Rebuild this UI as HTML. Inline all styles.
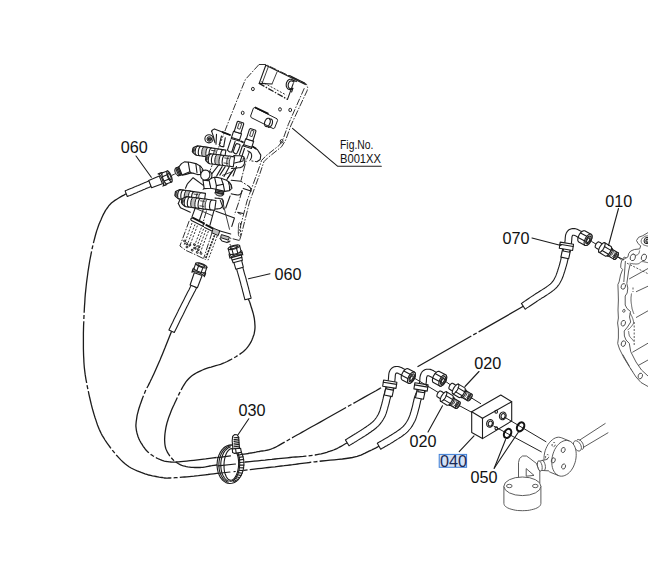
<!DOCTYPE html>
<html><head><meta charset="utf-8"><title>Parts diagram</title>
<style>
html,body{margin:0;padding:0;background:#fff;overflow:hidden;}
svg{display:block;}
.s{fill:none;stroke:#1c1c1c;stroke-width:1.1;stroke-linejoin:round;stroke-linecap:round}
.sw{fill:#fff;stroke:#1c1c1c;stroke-width:1.1;stroke-linejoin:round}
.w{fill:#fff;stroke:none}
.p2{fill:none;stroke:#222;stroke-width:1;stroke-linejoin:round}
.pd3{fill:none;stroke:#1c1c1c;stroke-width:1.3;stroke-dasharray:6 1.5 1.5 1.5}
.k15{fill:none;stroke:#111;stroke-width:1.7}
.pd2{fill:none;stroke:#222;stroke-width:.95;stroke-dasharray:8 1.5 1.5 1.5}
.sd{fill:#333;stroke:#1c1c1c;stroke-width:.6}
.sg{fill:#bdbdbd;stroke:#1c1c1c;stroke-width:1.0;stroke-linejoin:round}
.sg2{fill:#d0d0d0;stroke:#2a2a2a;stroke-width:.9;stroke-linejoin:round}
.k{fill:none;stroke:#111;stroke-width:2}
.kd{fill:none;stroke:#222;stroke-width:1.6;stroke-dasharray:2.2 1}
.o{fill:none;stroke:#111;stroke-width:2.1}
.c{fill:none;stroke:#222;stroke-width:1}
.h{fill:none;stroke:#1c1c1c;stroke-width:1.3;stroke-dasharray:62 2.2 4 2.2}
.p{fill:none;stroke:#2a2a2a;stroke-width:.9;stroke-linejoin:round}
.pw{fill:#fff;stroke:#2a2a2a;stroke-width:.9;stroke-linejoin:round}
.pd{fill:none;stroke:#262626;stroke-width:.95;stroke-dasharray:7 1.5 1.5 1.5}
.ps{fill:none;stroke:#262626;stroke-width:.95;stroke-dasharray:2 1.5}
.q{fill:none;stroke:#4a4a4a;stroke-width:.9;stroke-linejoin:round}
.qw{fill:#fff;stroke:#4a4a4a;stroke-width:.9;stroke-linejoin:round}
.qs{fill:none;stroke:#4a4a4a;stroke-width:.9;stroke-dasharray:2 1.5}
.t{font-family:"Liberation Sans",sans-serif;font-size:16.2px;fill:#111}
.f{font-family:"Liberation Sans",sans-serif;font-size:12px;fill:#111}
</style></head><body>
<svg width="648" height="568" viewBox="0 0 648 568">
<rect width="648" height="568" fill="#fff"/>
<path class="h" d="M126.2 193.7L125.2 194.3L123.9 195.1L122.3 195.9L120.6 196.9L118.7 198.0L116.8 199.2L114.9 200.4L113.1 201.7L111.4 203.1L110.0 204.5L108.7 205.9L107.6 207.5L106.5 209.0L105.4 210.7L104.5 212.4L103.5 214.1L102.6 216.0L101.7 217.9L100.9 219.9L100.0 222.0L99.1 224.1L98.3 226.3L97.5 228.6L96.7 230.9L96.0 233.3L95.3 235.8L94.6 238.5L93.9 241.2L93.2 244.0L92.5 247.0L91.8 250.1L91.2 253.5L90.5 256.9L89.8 260.5L89.2 264.2L88.6 267.9L88.0 271.7L87.5 275.5L87.0 279.2L86.5 283.0L86.1 286.8L85.7 290.6L85.3 294.4L85.0 298.3L84.8 302.2L84.5 306.1L84.3 309.9L84.1 313.8L83.9 317.7L83.8 321.5L83.6 325.3L83.5 329.2L83.4 333.2L83.4 337.1L83.4 341.0L83.4 344.9L83.4 348.6L83.5 352.3L83.6 355.7L83.8 359.0L83.9 362.0L84.1 364.8L84.3 367.4L84.6 369.9L84.9 372.3L85.2 374.7L85.6 377.1L86.0 379.6L86.5 382.2L87.0 385.0L87.6 388.0L88.3 391.2L89.0 394.6L89.8 398.0L90.6 401.5L91.4 404.9L92.3 408.3L93.2 411.5L94.1 414.6L95.0 417.5L95.9 420.1L96.7 422.6L97.5 424.9L98.4 427.2L99.2 429.3L100.2 431.4L101.2 433.5L102.3 435.6L103.6 437.7L105.0 440.0L106.6 442.4L108.4 444.9L110.3 447.5L112.3 450.1L114.4 452.7L116.5 455.2L118.7 457.6L120.8 459.9L123.0 461.9L125.0 463.8L127.0 465.3L129.0 466.7L131.1 468.0L133.1 469.0L135.2 470.0L137.2 470.9L139.2 471.6L141.2 472.4L143.1 473.1L145.0 473.8L146.9 474.4L148.7 475.0L150.6 475.4L152.4 475.9L154.2 476.2L156.0 476.5L157.7 476.8L159.2 477.1L160.7 477.3L162.0 477.5L163.1 477.7L164.0 477.8L164.6 478.0L165.2 478.0L165.7 478.1L166.2 478.1L166.9 478.1L167.7 478.1L168.7 478.0L170.0 478.0L171.6 477.9L173.4 477.8L175.4 477.7L177.5 477.6L179.8 477.4L182.1 477.2L184.5 477.0L186.9 476.8L189.3 476.6L191.7 476.4L194.0 476.2L196.2 475.9L198.4 475.7L200.7 475.4L203.0 475.1L205.4 474.8L207.9 474.5L210.6 474.1L213.5 473.8L216.7 473.4L220.2 473.0L224.1 472.6L228.2 472.1L232.5 471.6L236.9 471.1L241.4 470.6L245.8 470.1L250.1 469.6L254.2 469.1L258.0 468.7L261.6 468.3L265.1 467.9L268.5 467.5L271.8 467.1L275.0 466.8L278.2 466.4L281.2 466.0L284.2 465.7L287.1 465.3L290.0 465.0L292.7 464.7L295.2 464.3L297.6 464.0L299.9 463.7L302.2 463.4L304.4 463.1L306.8 462.8L309.3 462.5L312.0 462.1L315.0 461.8L318.3 461.4L322.0 461.0L326.0 460.6L330.1 460.2L334.3 459.8L338.4 459.4L342.4 459.0L346.1 458.5L349.5 458.0L352.5 457.5L355.0 456.9L357.2 456.4L359.2 455.7L360.9 455.1L362.5 454.4L363.9 453.7L365.2 453.1L366.5 452.4L367.7 451.8L369.0 451.2L370.3 450.6L371.6 450.0L372.8 449.4L373.9 448.9L375.0 448.3L376.0 447.8L376.9 447.3L377.7 446.9L378.4 446.5L379.0 446.2"/>
<path class="h" d="M171.6 331.2L170.9 332.9L170.0 335.2L168.9 337.9L167.7 341.0L166.4 344.2L165.1 347.6L163.7 351.0L162.4 354.2L161.1 357.3L160.0 360.0L158.9 362.5L157.8 365.0L156.7 367.5L155.6 369.9L154.6 372.2L153.6 374.4L152.6 376.5L151.7 378.5L150.8 380.3L150.0 382.0L149.3 383.4L148.7 384.6L148.2 385.6L147.7 386.5L147.3 387.2L146.9 388.0L146.5 388.8L146.0 389.7L145.5 390.7L145.0 392.0L144.4 393.5L143.7 395.2L143.0 396.9L142.3 398.8L141.6 400.8L140.9 402.7L140.2 404.6L139.6 406.5L139.0 408.3L138.5 410.0L138.1 411.6L137.7 413.1L137.3 414.7L137.0 416.1L136.8 417.6L136.6 419.0L136.4 420.3L136.2 421.6L136.1 422.8L136.0 424.0L135.9 425.1L135.9 426.1L136.0 427.1L136.1 428.0L136.2 428.9L136.3 429.7L136.4 430.5L136.6 431.3L136.8 432.2L137.0 433.0L137.2 433.8L137.4 434.6L137.7 435.4L137.9 436.2L138.2 437.0L138.5 437.8L138.8 438.6L139.2 439.4L139.6 440.2L140.0 441.0L140.5 441.9L141.0 442.8L141.6 443.7L142.2 444.7L142.8 445.7L143.4 446.6L144.1 447.5L144.7 448.4L145.4 449.2L146.0 450.0L146.6 450.7L147.3 451.3L147.9 452.0L148.5 452.5L149.2 453.1L149.8 453.6L150.5 454.1L151.1 454.6L151.8 455.0L152.5 455.5L153.2 456.0L153.9 456.4L154.7 456.9L155.4 457.3L156.2 457.7L156.9 458.1L157.7 458.5L158.5 458.8L159.2 459.2L160.0 459.5L160.8 459.8L161.5 460.1L162.2 460.4L162.9 460.6L163.7 460.9L164.4 461.1L165.2 461.3L166.1 461.4L167.0 461.6L168.0 461.7L169.0 461.8L169.9 461.9L170.8 462.0L171.7 462.1L172.7 462.1L173.8 462.1L175.1 462.1L176.7 462.0L178.6 461.9L180.8 461.7L183.5 461.4L186.6 461.1L190.1 460.7L193.8 460.3L197.7 459.8L201.7 459.3L205.7 458.9L209.6 458.4L213.3 457.9L216.7 457.5L220.0 457.1L223.3 456.7L226.6 456.3L229.8 455.9L233.0 455.5L236.0 455.1L238.9 454.7L241.6 454.4L244.0 454.1L246.2 453.8L248.1 453.5L249.7 453.2L251.0 453.0L252.1 452.9L253.1 452.7L254.0 452.5L254.8 452.3L255.8 452.2L256.8 451.9L258.0 451.7L259.3 451.5L260.7 451.2L262.1 451.0L263.5 450.8L264.9 450.6L266.4 450.3L267.8 450.0L269.4 449.6L270.9 449.1L272.5 448.5L274.1 447.8L275.7 447.1L277.3 446.3L278.9 445.4L280.6 444.4L282.3 443.4L284.1 442.4L286.0 441.3L287.9 440.2L290.0 439.0L292.0 437.9L293.9 436.8L295.7 435.8L297.5 434.8L299.5 433.7L301.8 432.4L304.3 431.0L307.3 429.3L310.8 427.3L315.0 425.0L320.2 422.1L326.5 418.5L333.6 414.5L341.2 410.2L349.1 405.8L356.8 401.5L364.0 397.4L370.5 393.7L376.0 390.7L380.0 388.4"/>
<path class="h" d="M380.0 388.4 L381.0 387.8"/>
<path class="h" d="M417.5 366.8 L523.3 306.3"/>
<path class="h" d="M248.0 299.0L248.1 299.2L248.2 299.3L248.4 299.5L248.5 299.7L248.7 299.9L248.9 300.3L249.2 300.7L249.4 301.3L249.7 302.1L250.0 303.0L250.4 304.2L250.8 305.6L251.3 307.2L251.9 309.0L252.4 310.8L253.0 312.7L253.5 314.6L253.9 316.5L254.3 318.3L254.5 320.0L254.7 321.6L254.8 323.1L254.9 324.6L255.0 326.1L255.0 327.6L254.9 329.1L254.7 330.6L254.5 332.0L254.2 333.5L253.8 335.0L253.2 336.5L252.7 338.0L252.1 339.6L251.4 341.1L250.6 342.7L249.7 344.2L248.7 345.7L247.6 347.2L246.4 348.6L245.0 350.0L243.5 351.4L241.8 352.7L239.9 354.1L237.9 355.4L235.9 356.7L233.7 358.0L231.5 359.2L229.3 360.4L227.2 361.5L225.0 362.5L222.8 363.4L220.5 364.3L218.2 365.0L215.8 365.7L213.4 366.4L211.1 367.1L208.8 367.7L206.6 368.4L204.5 369.2L202.5 370.0L200.7 370.8L199.0 371.6L197.4 372.4L195.8 373.2L194.4 374.1L193.0 375.0L191.6 376.0L190.2 377.2L188.9 378.5L187.5 380.0L186.1 381.7L184.8 383.7L183.4 385.8L182.1 388.1L180.8 390.5L179.6 392.9L178.4 395.4L177.2 397.8L176.1 400.2L175.0 402.5L174.0 404.8L172.9 407.0L171.9 409.3L171.0 411.6L170.1 413.9L169.2 416.2L168.4 418.4L167.7 420.7L167.0 422.9L166.5 425.0L166.0 427.1L165.6 429.3L165.3 431.4L165.0 433.5L164.8 435.6L164.7 437.6L164.6 439.6L164.7 441.5L164.8 443.3L165.0 445.0L165.3 446.6L165.7 448.2L166.3 449.7L166.9 451.1L167.5 452.4L168.3 453.7L169.1 454.9L169.9 456.1L170.8 457.2L171.7 458.3L172.6 459.3L173.6 460.3L174.7 461.2L175.7 462.0L176.9 462.8L178.1 463.5L179.3 464.2L180.6 464.8L181.9 465.3L183.3 465.8L184.8 466.2L186.3 466.6L187.9 466.9L189.6 467.1L191.3 467.3L193.1 467.4L194.8 467.5L196.6 467.5L198.3 467.5L200.0 467.5L201.6 467.4L202.9 467.3L204.2 467.1L205.5 466.9L206.8 466.6L208.2 466.3L209.9 466.0L211.8 465.7L214.0 465.3L216.7 465.0L219.9 464.6L223.5 464.3L227.6 463.8L231.9 463.4L236.4 463.0L241.0 462.5L245.5 462.0L249.9 461.6L254.1 461.2L258.0 460.8L261.6 460.4L265.1 460.1L268.5 459.7L271.8 459.4L275.0 459.0L278.2 458.7L281.2 458.4L284.2 458.1L287.1 457.8L290.0 457.5L292.8 457.2L295.6 457.0L298.2 456.8L300.8 456.6L303.3 456.4L305.8 456.1L308.2 455.9L310.5 455.6L312.8 455.3L315.0 455.0L317.1 454.6L319.2 454.2L321.2 453.8L323.1 453.3L325.0 452.8L326.8 452.3L328.5 451.7L330.2 451.2L331.9 450.6L333.5 450.0L335.1 449.3L336.8 448.6L338.4 447.8L340.0 446.9L341.5 446.1L342.9 445.3L344.2 444.5L345.4 443.8L346.4 443.2L347.2 442.8"/>
<path class="sw" d="M127.3 196.5L128.0 196.2L128.9 195.8L130.0 195.4L131.2 194.9L132.5 194.4L133.8 193.8L135.2 193.2L136.6 192.7L137.9 192.1L139.2 191.6L140.4 191.0L141.8 190.4L143.2 189.8L144.7 189.2L146.1 188.6L147.5 188.0L148.8 187.5L149.9 187.0L150.8 186.6L151.6 186.3L149.2 180.7L148.5 181.1L147.5 181.5L146.4 182.0L145.1 182.5L143.8 183.1L142.3 183.7L140.9 184.3L139.5 184.9L138.1 185.5L136.8 186.0L135.6 186.6L134.3 187.1L132.9 187.7L131.5 188.3L130.2 188.8L128.9 189.3L127.7 189.8L126.6 190.3L125.8 190.6L125.1 190.9Z"/>
<path class="sw" d="M174.3 332.5L175.0 331.1L175.9 329.3L176.9 327.2L178.1 324.8L179.3 322.3L180.6 319.6L181.9 316.9L183.3 314.2L184.5 311.7L185.7 309.3L186.8 307.0L188.1 304.6L189.3 302.1L190.6 299.6L191.9 297.1L193.1 294.8L194.2 292.6L195.2 290.7L196.0 289.0L196.7 287.8L191.3 285.0L190.7 286.3L189.8 287.9L188.9 289.9L187.7 292.0L186.5 294.4L185.3 296.8L184.0 299.4L182.7 301.9L181.5 304.3L180.3 306.7L179.1 309.0L177.9 311.6L176.6 314.2L175.2 317.0L173.9 319.6L172.7 322.2L171.5 324.6L170.5 326.7L169.6 328.5L168.9 329.9Z"/>
<path class="sw" d="M251.1 298.2L250.9 297.3L250.6 296.1L250.2 294.7L249.8 293.1L249.4 291.4L248.9 289.7L248.5 287.9L248.0 286.1L247.5 284.3L247.1 282.7L246.6 281.0L246.2 279.3L245.7 277.4L245.1 275.6L244.6 273.8L244.1 272.1L243.7 270.5L243.3 269.1L242.9 267.9L242.7 266.9L236.5 268.7L236.8 269.6L237.1 270.8L237.5 272.2L238.0 273.8L238.5 275.6L239.0 277.3L239.5 279.2L240.0 281.0L240.5 282.7L240.9 284.3L241.3 285.9L241.8 287.7L242.3 289.5L242.7 291.3L243.2 293.0L243.6 294.7L244.0 296.3L244.4 297.7L244.7 298.9L244.9 299.8Z"/>
<path class="sw" d="M349.0 445.7L349.6 445.4L350.4 444.9L351.4 444.3L352.5 443.6L353.7 442.9L354.9 442.1L356.2 441.4L357.4 440.6L358.5 439.9L359.6 439.2L360.6 438.6L361.6 438.0L362.7 437.3L363.7 436.7L364.7 436.1L365.7 435.5L366.7 434.8L367.6 434.2L368.6 433.5L369.6 432.8L370.5 432.2L371.4 431.5L372.4 430.8L373.3 430.2L374.2 429.5L375.2 428.8L376.1 428.0L377.0 427.2L377.9 426.4L378.7 425.6L379.5 424.7L380.2 423.8L380.9 422.9L381.6 422.0L382.2 421.1L382.8 420.2L383.4 419.3L383.9 418.3L384.4 417.4L384.9 416.4L385.4 415.4L385.8 414.4L386.2 413.4L386.5 412.3L386.8 411.3L387.1 410.3L387.4 409.4L387.7 408.4L387.9 407.4L388.2 406.4L388.5 405.4L388.8 404.3L389.1 403.1L389.4 402.0L389.6 400.9L389.9 399.7L390.2 398.7L390.4 397.7L390.6 396.7L390.8 395.9L391.1 395.1L391.3 394.3L391.5 393.5L391.7 392.8L391.9 392.1L392.1 391.5L392.2 390.9L392.4 390.4L392.5 389.9L392.6 389.5L386.0 387.7L385.9 388.0L385.8 388.4L385.6 389.0L385.4 389.5L385.2 390.2L385.0 390.9L384.8 391.6L384.6 392.4L384.4 393.3L384.2 394.1L383.9 395.1L383.7 396.0L383.4 397.1L383.2 398.2L382.9 399.3L382.7 400.4L382.4 401.5L382.1 402.5L381.9 403.6L381.6 404.6L381.3 405.6L381.0 406.6L380.8 407.5L380.5 408.4L380.2 409.3L380.0 410.2L379.7 411.0L379.4 411.8L379.1 412.6L378.7 413.4L378.3 414.2L377.9 415.0L377.4 415.8L377.0 416.5L376.5 417.3L376.0 418.0L375.4 418.8L374.9 419.5L374.3 420.2L373.7 420.8L373.1 421.5L372.4 422.1L371.7 422.7L370.9 423.3L370.1 424.0L369.2 424.6L368.4 425.2L367.5 425.9L366.5 426.5L365.6 427.2L364.7 427.8L363.8 428.4L362.9 429.0L361.9 429.6L361.0 430.3L360.0 430.9L359.0 431.5L358.0 432.1L357.0 432.7L356.0 433.4L354.9 434.0L353.7 434.8L352.5 435.5L351.3 436.3L350.1 437.0L348.9 437.7L347.8 438.4L346.9 439.0L346.0 439.5L345.4 439.9Z"/>
<path class="sw" d="M386.3 385.7L384.3 395.0L392.1 396.6L394.1 387.3Z"/>
<path class="sw" d="M393.0 390.1L393.2 389.4L393.4 388.4L393.6 387.1L393.9 385.8L394.2 384.4L394.4 383.0L394.7 381.7L394.9 380.5L395.0 379.4L395.1 378.4L395.2 377.4L395.2 376.6L395.3 375.8L395.3 375.2L395.4 374.8L395.5 374.4L395.6 374.1L395.7 373.8L395.8 373.6L395.9 373.4L396.0 373.3L396.1 373.2L396.1 373.2L396.2 373.1L396.2 373.1L396.3 373.1L396.4 373.1L396.5 373.1L396.7 373.1L397.0 373.1L397.3 373.1L397.5 373.1L397.7 373.2L398.0 373.3L398.4 373.5L398.9 373.7L399.4 374.0L400.0 374.3L400.5 374.6L400.9 374.8L401.3 375.0L401.7 375.2L402.0 375.4L402.3 375.6L402.5 375.7L402.8 375.9L403.1 376.1L403.3 376.2L406.7 370.6L406.6 370.5L406.4 370.4L406.1 370.2L405.8 370.0L405.4 369.7L405.0 369.5L404.5 369.2L404.1 369.0L403.6 368.8L403.1 368.5L402.6 368.2L401.9 367.8L401.2 367.5L400.5 367.2L399.7 366.9L398.9 366.7L398.1 366.5L397.4 366.5L396.7 366.5L395.9 366.5L395.1 366.6L394.4 366.8L393.6 367.1L392.8 367.5L392.1 367.9L391.5 368.4L391.0 369.0L390.5 369.6L390.1 370.3L389.7 371.0L389.4 371.8L389.1 372.6L388.9 373.5L388.8 374.4L388.7 375.3L388.6 376.2L388.6 377.0L388.5 377.8L388.5 378.6L388.3 379.5L388.2 380.5L387.9 381.8L387.7 383.1L387.4 384.5L387.2 385.9L386.9 387.1L386.7 388.1L386.6 388.9Z"/>
<path class="sw" d="M383.6 380.0L396.9 382.2L396.0 388.4L382.7 386.2Z"/>
<path class="s" d="M383.3 382.2L396.6 384.4"/>
<path class="sw" d="M402.2 379.9L401.6 379.3L401.2 378.4L401.2 377.2L401.3 375.9L401.8 374.4L402.5 372.9L403.3 371.5L404.3 370.3L405.3 369.4L406.4 368.8L407.3 368.6L408.1 368.7L414.4 372.1L415.0 372.7L415.4 373.6L415.4 374.8L415.3 376.1L414.8 377.6L414.1 379.1L413.3 380.5L412.3 381.7L411.3 382.6L410.2 383.2L409.3 383.4L408.5 383.3Z"/>
<path class="sw" d="M414.1 379.1L413.3 380.5L412.3 381.7L411.3 382.6L410.2 383.2L409.3 383.4L408.5 383.3L407.9 382.7L407.6 381.8L407.5 380.6L407.7 379.3L408.2 377.8L408.8 376.3L409.7 374.9L410.7 373.7L411.7 372.8L412.7 372.2L413.6 372.0L414.4 372.1L415.0 372.7L415.4 373.6L415.4 374.8L415.3 376.1L414.8 377.6L414.1 379.1Z"/>
<path class="s" d="M413.5 378.8L412.8 379.9L412.0 380.8L411.2 381.5L410.4 381.7L409.7 381.6L409.3 381.1L409.1 380.3L409.1 379.3L409.4 378.1L409.9 376.9L410.7 375.8L411.5 374.8L412.3 374.2L413.1 373.9L413.8 374.0L414.2 374.5L414.4 375.3L414.4 376.4L414.1 377.6L413.5 378.8Z"/>
<path class="s" d="M412.7 378.7L412.1 379.5L411.5 380.1L410.9 380.5L410.4 380.4L410.0 380.0L410.0 379.3L410.1 378.5L410.5 377.5L411.1 376.7L411.7 376.0L412.3 375.7L412.8 375.8L413.2 376.2L413.2 376.8L413.1 377.7L412.7 378.7Z"/>
<path class="s" d="M403.9 370.9L410.1 374.2"/>
<path class="s" d="M401.5 375.3L407.7 378.6"/>
<path class="sw" d="M380.7 449.2L381.5 448.7L382.6 448.1L383.8 447.4L385.2 446.6L386.8 445.7L388.3 444.8L390.0 443.9L391.5 442.9L393.1 442.0L394.4 441.1L395.8 440.3L397.1 439.4L398.4 438.6L399.7 437.7L401.1 436.9L402.4 436.0L403.6 435.0L404.9 434.1L406.1 433.1L407.2 432.1L408.2 431.1L409.1 430.0L410.0 429.0L410.8 428.0L411.6 426.9L412.3 425.9L412.9 424.8L413.5 423.7L414.1 422.6L414.7 421.5L415.3 420.3L415.8 419.1L416.2 417.9L416.6 416.7L417.0 415.4L417.4 414.2L417.7 413.1L418.0 411.9L418.3 410.8L418.6 409.7L418.9 408.6L419.2 407.5L419.5 406.3L419.7 405.2L420.0 404.1L420.2 403.1L420.4 402.1L420.6 401.2L420.9 400.3L421.1 399.5L421.4 398.7L421.6 397.9L421.9 397.1L422.2 396.3L422.5 395.6L422.8 394.9L423.1 394.2L423.4 393.6L423.6 393.0L423.8 392.6L417.4 390.0L417.2 390.4L417.0 390.9L416.8 391.5L416.5 392.2L416.2 392.9L415.8 393.8L415.5 394.7L415.1 395.6L414.8 396.5L414.5 397.5L414.2 398.5L414.0 399.5L413.7 400.6L413.5 401.6L413.2 402.7L413.0 403.7L412.8 404.8L412.5 405.8L412.3 406.8L412.0 407.9L411.7 409.0L411.4 410.1L411.1 411.2L410.7 412.3L410.4 413.4L410.1 414.5L409.7 415.6L409.3 416.6L408.9 417.5L408.5 418.5L408.0 419.4L407.5 420.4L407.0 421.3L406.4 422.2L405.9 423.0L405.3 423.9L404.7 424.7L404.0 425.5L403.2 426.3L402.4 427.1L401.5 427.9L400.6 428.7L399.5 429.5L398.4 430.3L397.2 431.1L396.0 432.0L394.7 432.8L393.4 433.6L392.0 434.5L390.8 435.3L389.4 436.1L388.0 437.0L386.4 437.9L384.9 438.8L383.3 439.7L381.8 440.6L380.4 441.4L379.2 442.1L378.1 442.7L377.3 443.2Z"/>
<path class="sw" d="M417.5 388.4L415.5 397.7L423.4 399.3L425.4 390.0Z"/>
<path class="sw" d="M424.3 392.8L424.4 392.1L424.6 391.1L424.9 389.8L425.1 388.5L425.4 387.1L425.7 385.7L425.9 384.4L426.1 383.2L426.3 382.1L426.4 381.1L426.4 380.1L426.5 379.3L426.5 378.5L426.6 377.9L426.6 377.5L426.7 377.1L426.8 376.8L427.0 376.5L427.1 376.3L427.2 376.1L427.2 376.0L427.3 375.9L427.4 375.9L427.4 375.8L427.5 375.8L427.5 375.8L427.6 375.8L427.8 375.8L428.0 375.8L428.2 375.8L428.5 375.8L428.7 375.8L429.0 375.9L429.3 376.0L429.7 376.2L430.2 376.4L430.7 376.7L431.2 377.0L431.7 377.3L432.2 377.5L432.6 377.7L432.9 377.9L433.2 378.1L433.5 378.3L433.8 378.4L434.1 378.6L434.3 378.8L434.5 378.9L438.0 373.3L437.8 373.2L437.6 373.1L437.4 372.9L437.0 372.7L436.6 372.4L436.2 372.2L435.8 371.9L435.3 371.7L434.9 371.5L434.4 371.2L433.8 370.9L433.2 370.5L432.5 370.2L431.8 369.9L431.0 369.6L430.2 369.4L429.4 369.2L428.7 369.2L427.9 369.2L427.2 369.2L426.4 369.3L425.6 369.5L424.8 369.8L424.1 370.2L423.4 370.6L422.8 371.1L422.2 371.7L421.8 372.3L421.3 373.0L421.0 373.7L420.7 374.5L420.4 375.3L420.2 376.2L420.0 377.1L419.9 378.0L419.9 378.9L419.8 379.7L419.8 380.5L419.7 381.3L419.6 382.2L419.4 383.2L419.2 384.5L418.9 385.8L418.7 387.2L418.4 388.6L418.2 389.8L418.0 390.8L417.8 391.6Z"/>
<path class="sw" d="M414.9 382.7L428.1 384.9L427.2 391.1L413.9 388.9Z"/>
<path class="s" d="M414.6 384.9L427.9 387.1"/>
<path class="sw" d="M433.4 382.6L432.8 382.0L432.5 381.1L432.4 379.9L432.6 378.6L433.0 377.1L433.7 375.6L434.6 374.2L435.6 373.0L436.6 372.1L437.6 371.5L438.5 371.3L439.3 371.4L445.7 374.8L446.3 375.4L446.6 376.3L446.7 377.5L446.5 378.8L446.1 380.3L445.4 381.8L444.5 383.2L443.5 384.4L442.5 385.3L441.5 385.9L440.6 386.1L439.8 386.0Z"/>
<path class="sw" d="M445.4 381.8L444.5 383.2L443.5 384.4L442.5 385.3L441.5 385.9L440.6 386.1L439.8 386.0L439.2 385.4L438.8 384.5L438.8 383.3L439.0 382.0L439.4 380.5L440.1 379.0L440.9 377.6L441.9 376.4L442.9 375.5L444.0 374.9L444.9 374.7L445.7 374.8L446.3 375.4L446.6 376.3L446.7 377.5L446.5 378.8L446.1 380.3L445.4 381.8Z"/>
<path class="s" d="M444.8 381.5L444.1 382.6L443.3 383.5L442.4 384.2L441.6 384.4L441.0 384.3L440.5 383.8L440.3 383.0L440.4 382.0L440.7 380.8L441.2 379.6L441.9 378.5L442.7 377.5L443.6 376.9L444.3 376.6L445.0 376.7L445.5 377.2L445.7 378.0L445.6 379.1L445.3 380.3L444.8 381.5Z"/>
<path class="s" d="M443.9 381.4L443.4 382.2L442.7 382.8L442.1 383.2L441.6 383.1L441.3 382.7L441.2 382.0L441.4 381.2L441.8 380.2L442.3 379.4L443.0 378.7L443.6 378.4L444.1 378.5L444.4 378.9L444.5 379.5L444.3 380.4L443.9 381.4Z"/>
<path class="s" d="M435.1 373.6L441.3 376.9"/>
<path class="s" d="M432.8 378.0L439.0 381.3"/>
<path class="sw" d="M525.2 309.2L526.0 308.6L527.0 307.9L528.3 307.1L529.6 306.2L531.1 305.2L532.6 304.2L534.1 303.2L535.6 302.2L537.0 301.2L538.3 300.4L539.5 299.6L540.7 298.9L541.8 298.1L543.0 297.4L544.2 296.7L545.3 296.0L546.4 295.3L547.5 294.6L548.5 293.9L549.5 293.2L550.3 292.6L551.2 292.0L551.9 291.5L552.7 290.9L553.4 290.4L554.1 289.8L554.8 289.2L555.5 288.6L556.1 288.0L556.7 287.3L557.4 286.6L557.9 285.9L558.5 285.2L559.0 284.5L559.5 283.7L559.9 283.0L560.3 282.2L560.7 281.5L561.1 280.8L561.5 280.0L561.9 279.2L562.2 278.4L562.6 277.6L562.9 276.8L563.2 276.0L563.4 275.2L563.7 274.4L564.0 273.6L564.2 272.8L564.5 272.0L564.8 271.1L565.0 270.3L565.3 269.4L565.6 268.5L565.8 267.6L566.1 266.7L566.4 265.8L566.6 264.8L566.9 263.8L567.2 262.8L567.4 261.7L567.7 260.6L567.9 259.4L568.2 258.1L568.4 256.9L568.7 255.7L568.9 254.6L569.1 253.6L569.3 252.8L569.4 252.2L562.6 250.8L562.5 251.5L562.3 252.3L562.1 253.3L561.9 254.3L561.7 255.5L561.4 256.7L561.2 257.9L560.9 259.1L560.7 260.2L560.4 261.2L560.2 262.1L560.0 263.0L559.7 263.9L559.5 264.8L559.2 265.7L559.0 266.5L558.7 267.4L558.5 268.2L558.2 269.0L557.9 269.8L557.7 270.7L557.4 271.5L557.1 272.2L556.9 273.0L556.6 273.7L556.4 274.4L556.1 275.1L555.9 275.7L555.6 276.4L555.3 277.0L555.0 277.6L554.6 278.3L554.3 278.9L554.0 279.5L553.6 280.1L553.3 280.6L552.9 281.1L552.5 281.7L552.1 282.2L551.7 282.7L551.2 283.2L550.7 283.6L550.2 284.1L549.7 284.5L549.2 284.9L548.5 285.4L547.9 285.9L547.2 286.4L546.4 287.0L545.5 287.6L544.6 288.2L543.7 288.8L542.7 289.4L541.6 290.1L540.5 290.8L539.4 291.5L538.2 292.3L537.0 293.0L535.7 293.8L534.5 294.6L533.2 295.5L531.8 296.4L530.3 297.4L528.7 298.5L527.2 299.5L525.8 300.5L524.4 301.4L523.2 302.2L522.2 302.9L521.4 303.4Z"/>
<path class="sw" d="M562.9 247.8L560.9 257.1L568.7 258.7L570.7 249.4Z"/>
<path class="sw" d="M569.6 252.2L569.8 251.5L570.0 250.5L570.2 249.2L570.5 247.9L570.8 246.5L571.0 245.1L571.3 243.8L571.5 242.6L571.6 241.5L571.7 240.5L571.8 239.5L571.8 238.7L571.9 237.9L571.9 237.3L572.0 236.9L572.1 236.5L572.2 236.2L572.3 235.9L572.4 235.7L572.5 235.5L572.6 235.4L572.7 235.3L572.7 235.3L572.8 235.2L572.8 235.2L572.9 235.2L573.0 235.2L573.1 235.2L573.3 235.2L573.6 235.2L573.9 235.2L574.1 235.2L574.3 235.3L574.6 235.4L575.0 235.6L575.5 235.8L576.0 236.1L576.6 236.4L577.1 236.7L577.5 236.9L577.9 237.1L578.3 237.3L578.6 237.5L578.9 237.7L579.1 237.8L579.4 238.0L579.7 238.2L579.9 238.3L583.3 232.7L583.2 232.6L583.0 232.5L582.7 232.3L582.4 232.1L582.0 231.8L581.6 231.6L581.1 231.3L580.7 231.1L580.2 230.9L579.7 230.6L579.2 230.3L578.5 229.9L577.8 229.6L577.1 229.3L576.3 229.0L575.5 228.8L574.7 228.6L574.0 228.6L573.3 228.6L572.5 228.6L571.7 228.7L571.0 228.9L570.2 229.2L569.4 229.6L568.7 230.0L568.1 230.5L567.6 231.1L567.1 231.7L566.7 232.4L566.3 233.1L566.0 233.9L565.7 234.7L565.5 235.6L565.4 236.5L565.3 237.4L565.2 238.3L565.2 239.1L565.1 239.9L565.1 240.7L564.9 241.6L564.8 242.6L564.5 243.9L564.3 245.2L564.0 246.6L563.8 248.0L563.5 249.2L563.3 250.2L563.2 251.0Z"/>
<path class="sw" d="M560.2 242.1L573.5 244.3L572.6 250.5L559.3 248.3Z"/>
<path class="s" d="M559.9 244.3L573.2 246.5"/>
<path class="sw" d="M578.8 242.0L578.2 241.4L577.8 240.5L577.8 239.3L577.9 238.0L578.4 236.5L579.1 235.0L579.9 233.6L580.9 232.4L581.9 231.5L583.0 230.9L583.9 230.7L584.7 230.8L591.0 234.2L591.6 234.8L592.0 235.7L592.0 236.9L591.9 238.2L591.4 239.7L590.7 241.2L589.9 242.6L588.9 243.8L587.9 244.7L586.8 245.3L585.9 245.5L585.1 245.4Z"/>
<path class="sw" d="M590.7 241.2L589.9 242.6L588.9 243.8L587.9 244.7L586.8 245.3L585.9 245.5L585.1 245.4L584.5 244.8L584.2 243.9L584.1 242.7L584.3 241.4L584.8 239.9L585.4 238.4L586.3 237.0L587.3 235.8L588.3 234.9L589.3 234.3L590.2 234.1L591.0 234.2L591.6 234.8L592.0 235.7L592.0 236.9L591.9 238.2L591.4 239.7L590.7 241.2Z"/>
<path class="s" d="M590.1 240.9L589.4 242.0L588.6 242.9L587.8 243.6L587.0 243.8L586.3 243.7L585.9 243.2L585.7 242.4L585.7 241.4L586.0 240.2L586.5 239.0L587.3 237.9L588.1 236.9L588.9 236.3L589.7 236.0L590.4 236.1L590.8 236.6L591.0 237.4L591.0 238.5L590.7 239.7L590.1 240.9Z"/>
<path class="s" d="M589.3 240.8L588.7 241.6L588.1 242.2L587.5 242.6L587.0 242.5L586.6 242.1L586.6 241.4L586.7 240.6L587.1 239.6L587.7 238.8L588.3 238.1L588.9 237.8L589.4 237.9L589.8 238.3L589.8 238.9L589.7 239.8L589.3 240.8Z"/>
<path class="s" d="M580.5 233.0L586.7 236.3"/>
<path class="s" d="M578.1 237.4L584.3 240.7"/>
<path class="c" d="M415.0 378.5 L438.0 392.3"/>
<path class="c" d="M445.5 381.3 L450.0 384.6"/>
<path class="c" d="M470.5 397.3 L481.0 403.8"/>
<path class="c" d="M458.5 405.2 L473.0 413.0"/>
<path class="s" d="M450.9 390.0L450.6 389.5L450.6 388.7L450.9 387.6L451.4 386.4L452.2 385.4L453.0 384.7L453.7 384.3L454.3 384.3"/>
<path class="sw" d="M449.2 389.0L448.9 388.5L448.9 387.6L449.2 386.6L449.7 385.4L450.5 384.4L451.3 383.6L452.0 383.3L452.6 383.3L457.4 386.2L454.0 391.9Z"/>
<path class="sw" d="M465.4 390.3L471.7 394.1L472.1 394.6L472.1 395.6L471.7 396.9L471.1 398.2L470.2 399.5L469.2 400.4L468.4 400.8L467.7 400.8L461.4 397.0Z"/>
<path class="sw" d="M471.1 398.2L470.2 399.5L469.2 400.4L468.4 400.8L467.7 400.8L467.3 400.2L467.3 399.2L467.7 397.9L468.3 396.6L469.2 395.4L470.1 394.5L471.0 394.0L471.7 394.1L472.1 394.6L472.1 395.6L471.7 396.9L471.1 398.2Z"/>
<path class="sg" d="M470.6 398.0L469.9 398.9L469.2 399.5L468.7 399.5L468.4 399.0L468.6 398.1L469.1 397.1L469.8 396.1L470.5 395.6L471.0 395.6L471.3 396.0L471.1 396.9L470.6 398.0Z"/>
<path class="p" d="M466.8 391.1L467.2 391.7L467.2 392.7L466.8 394.0L466.2 395.3L465.3 396.5L464.3 397.4L463.5 397.9L462.8 397.8"/>
<path class="p" d="M468.4 392.1L468.8 392.7L468.8 393.7L468.5 394.9L467.8 396.3L466.9 397.5L466.0 398.4L465.1 398.9L464.4 398.8"/>
<path class="p" d="M470.1 393.1L470.4 393.7L470.4 394.7L470.1 395.9L469.4 397.3L468.6 398.5L467.6 399.4L466.7 399.8L466.0 399.8"/>
<path class="sw" d="M452.7 393.7L452.3 393.2L452.2 392.2L452.5 390.9L453.0 389.4L453.8 387.9L454.8 386.5L455.9 385.3L456.9 384.4L457.8 384.0L458.4 384.1L464.8 387.9L465.2 388.5L465.2 389.5L465.0 390.7L464.4 392.2L463.6 393.8L462.6 395.2L461.6 396.4L460.6 397.2L459.7 397.6L459.0 397.5Z"/>
<path class="s" d="M458.4 384.1L458.8 384.7L458.9 385.6L458.6 386.9L458.1 388.4L457.3 390.0L456.3 391.4L455.2 392.6L454.2 393.4L453.3 393.8L452.7 393.7"/>
<path class="s" d="M458.1 387.9L464.6 391.8"/>
<path class="s" d="M455.8 391.9L462.2 395.7"/>
<path class="s" d="M465.8 389.7L466.1 390.2L466.2 391.0L466.0 392.1L465.5 393.3L464.9 394.5L464.1 395.7L463.2 396.7L462.4 397.4L461.6 397.7L461.1 397.6"/>
<path class="s" d="M438.9 397.7L438.6 397.2L438.6 396.4L438.9 395.3L439.4 394.1L440.2 393.1L441.0 392.4L441.7 392.0L442.3 392.0"/>
<path class="sw" d="M437.2 396.7L436.9 396.2L436.9 395.3L437.2 394.3L437.7 393.1L438.5 392.1L439.3 391.3L440.0 391.0L440.6 391.0L445.4 393.9L442.0 399.6Z"/>
<path class="sw" d="M453.4 398.0L459.7 401.8L460.1 402.3L460.1 403.3L459.7 404.6L459.1 405.9L458.2 407.2L457.2 408.1L456.4 408.5L455.7 408.5L449.4 404.7Z"/>
<path class="sw" d="M459.1 405.9L458.2 407.2L457.2 408.1L456.4 408.5L455.7 408.5L455.3 407.9L455.3 406.9L455.7 405.6L456.3 404.3L457.2 403.1L458.1 402.2L459.0 401.7L459.7 401.8L460.1 402.3L460.1 403.3L459.7 404.6L459.1 405.9Z"/>
<path class="sg" d="M458.6 405.7L457.9 406.6L457.2 407.2L456.7 407.2L456.4 406.7L456.6 405.8L457.1 404.8L457.8 403.8L458.5 403.3L459.0 403.3L459.3 403.7L459.1 404.6L458.6 405.7Z"/>
<path class="p" d="M454.8 398.8L455.2 399.4L455.2 400.4L454.8 401.7L454.2 403.0L453.3 404.2L452.3 405.1L451.5 405.6L450.8 405.5"/>
<path class="p" d="M456.4 399.8L456.8 400.4L456.8 401.4L456.5 402.6L455.8 404.0L454.9 405.2L454.0 406.1L453.1 406.6L452.4 406.5"/>
<path class="p" d="M458.1 400.8L458.4 401.4L458.4 402.4L458.1 403.6L457.4 405.0L456.6 406.2L455.6 407.1L454.7 407.5L454.0 407.5"/>
<path class="sw" d="M440.7 401.4L440.3 400.9L440.2 399.9L440.5 398.6L441.0 397.1L441.8 395.6L442.8 394.2L443.9 393.0L444.9 392.1L445.8 391.7L446.4 391.8L452.8 395.6L453.2 396.2L453.2 397.2L453.0 398.4L452.4 399.9L451.6 401.5L450.6 402.9L449.6 404.1L448.6 404.9L447.7 405.3L447.0 405.2Z"/>
<path class="s" d="M446.4 391.8L446.8 392.4L446.9 393.3L446.6 394.6L446.1 396.1L445.3 397.7L444.3 399.1L443.2 400.3L442.2 401.1L441.3 401.5L440.7 401.4"/>
<path class="s" d="M446.1 395.6L452.6 399.5"/>
<path class="s" d="M443.8 399.6L450.2 403.4"/>
<path class="s" d="M453.8 397.4L454.1 397.9L454.2 398.7L454.0 399.8L453.5 401.0L452.9 402.2L452.1 403.4L451.2 404.4L450.4 405.1L449.6 405.4L449.1 405.3"/>
<path class="c" d="M591.3 241.3 L596.5 244.4"/>
<path class="c" d="M616.5 256.0 L624.0 260.0"/>
<path class="s" d="M597.2 248.6L596.9 248.1L596.9 247.3L597.2 246.2L597.7 245.0L598.5 244.0L599.3 243.3L600.0 242.9L600.6 242.9"/>
<path class="sw" d="M595.5 247.6L595.2 247.1L595.2 246.2L595.5 245.2L596.0 244.0L596.8 243.0L597.6 242.2L598.3 241.9L598.9 241.9L603.7 244.8L600.3 250.5Z"/>
<path class="sw" d="M611.7 248.9L618.0 252.7L618.4 253.2L618.4 254.2L618.0 255.5L617.4 256.8L616.5 258.1L615.5 259.0L614.7 259.4L614.0 259.4L607.7 255.6Z"/>
<path class="sw" d="M617.4 256.8L616.5 258.1L615.5 259.0L614.7 259.4L614.0 259.4L613.6 258.8L613.6 257.8L614.0 256.5L614.6 255.2L615.5 254.0L616.4 253.1L617.3 252.6L618.0 252.7L618.4 253.2L618.4 254.2L618.0 255.5L617.4 256.8Z"/>
<path class="sg" d="M616.9 256.6L616.2 257.5L615.5 258.1L615.0 258.1L614.7 257.6L614.9 256.7L615.4 255.7L616.1 254.7L616.8 254.2L617.3 254.2L617.6 254.6L617.4 255.5L616.9 256.6Z"/>
<path class="p" d="M613.1 249.7L613.5 250.3L613.5 251.3L613.1 252.6L612.5 253.9L611.6 255.1L610.6 256.0L609.8 256.5L609.1 256.4"/>
<path class="p" d="M614.7 250.7L615.1 251.3L615.1 252.3L614.8 253.5L614.1 254.9L613.2 256.1L612.3 257.0L611.4 257.5L610.7 257.4"/>
<path class="p" d="M616.4 251.7L616.7 252.3L616.7 253.3L616.4 254.5L615.7 255.9L614.9 257.1L613.9 258.0L613.0 258.4L612.3 258.4"/>
<path class="sw" d="M599.0 252.3L598.6 251.8L598.5 250.8L598.8 249.5L599.3 248.0L600.1 246.5L601.1 245.1L602.2 243.9L603.2 243.0L604.1 242.6L604.7 242.7L611.1 246.5L611.5 247.1L611.5 248.1L611.3 249.3L610.7 250.8L609.9 252.4L608.9 253.8L607.9 255.0L606.9 255.8L606.0 256.2L605.3 256.1Z"/>
<path class="s" d="M604.7 242.7L605.1 243.3L605.2 244.2L604.9 245.5L604.4 247.0L603.6 248.6L602.6 250.0L601.5 251.2L600.5 252.0L599.6 252.4L599.0 252.3"/>
<path class="s" d="M604.4 246.5L610.9 250.4"/>
<path class="s" d="M602.1 250.5L608.5 254.3"/>
<path class="s" d="M612.1 248.3L612.4 248.8L612.5 249.6L612.3 250.7L611.8 251.9L611.2 253.1L610.4 254.3L609.5 255.3L608.7 256.0L607.9 256.3L607.4 256.2"/>
<path class="sw" d="M471.7 411.7L500.8 395.0L511.7 401.7L511.7 421.0L482.5 438.6L471.7 432.5Z"/>
<path class="s" d="M471.7 411.7L482.5 418.3L511.7 401.7"/>
<path class="s" d="M482.5 418.3L482.5 438.6"/>
<ellipse class="s" cx="490.0" cy="423.4" rx="3.3" ry="3.9" transform="rotate(20 490.0 423.4)"/>
<ellipse class="s" cx="490.3" cy="423.6" rx="2.0" ry="2.6" transform="rotate(20 490.3 423.6)"/>
<ellipse class="s" cx="502.8" cy="415.9" rx="3.3" ry="3.9" transform="rotate(20 502.8 415.9)"/>
<ellipse class="s" cx="503.1" cy="416.1" rx="2.0" ry="2.6" transform="rotate(20 503.1 416.1)"/>
<ellipse class="s" cx="496.2" cy="411.7" rx="1.3" ry="1.5" transform="rotate(0 496.2 411.7)"/>
<ellipse class="s" cx="496.3" cy="428.2" rx="1.3" ry="1.5" transform="rotate(0 496.3 428.2)"/>
<path class="c" d="M506.0 418.0 L546.3 441.9"/>
<path class="c" d="M493.5 426.0 L541.7 452.0"/>
<ellipse class="o" cx="507.6" cy="433.4" rx="3.3" ry="4.8" transform="rotate(28 507.6 433.4)"/>
<ellipse class="o" cx="520.6" cy="426.8" rx="3.3" ry="4.8" transform="rotate(28 520.6 426.8)"/>
<path class="s" d="M136.0 156.0 L151.3 177.3"/>
<path class="s" d="M270.0 273.8 L248.5 278.8"/>
<path class="s" d="M248.8 418.8 L237.5 435.5"/>
<path class="s" d="M479.0 371.5 L465.0 386.5"/>
<path class="s" d="M442.5 405.8 L428.0 432.0"/>
<path class="s" d="M474.0 435.8 L459.2 451.6"/>
<path class="s" d="M494.2 468.2 L505.6 439.5"/>
<path class="s" d="M494.2 468.2 L518.3 432.2"/>
<path class="s" d="M532.0 238.0 L561.0 245.5"/>
<path class="s" d="M618.5 208.5 L608.5 245.5"/>
<path class="s" d="M292.5 128.3L337.5 166.2L381.3 166.2"/>
<rect x="439.2" y="454.4" width="27.4" height="12.9" fill="#d3e1f6" stroke="#3f7fd6" stroke-width="1"/>
<text class="t" x="120.8" y="153.4">060</text>
<text class="t" x="274.6" y="280.0">060</text>
<text class="t" x="238.4" y="416.2">030</text>
<text class="t" x="474.2" y="369.0">020</text>
<text class="t" x="409.6" y="447.0">020</text>
<text class="t" x="440.0" y="466.8" style="fill:#1b2a55">040</text>
<text class="t" x="470.6" y="482.9">050</text>
<text class="t" x="502.4" y="244.1">070</text>
<text class="t" x="605.2" y="207.1">010</text>
<text class="f" x="340.0" y="149.3" textLength="33.4" lengthAdjust="spacingAndGlyphs">Fig.No.</text>
<text class="f" x="340.0" y="163.1" textLength="41" lengthAdjust="spacingAndGlyphs">B001XX</text>
<path class="sw" d="M243.9 464.8L243.6 467.8L243.0 470.7L242.0 473.5L240.8 476.0L239.4 478.2L237.7 480.1L235.8 481.6L233.8 482.7L231.8 483.3L229.7 483.5L227.6 483.2L225.6 482.4L223.7 481.1L222.0 479.5L220.4 477.4L219.2 475.1L218.2 472.4L217.5 469.6L217.1 466.6L217.1 463.6L217.4 460.6L218.0 457.7L219.0 454.9L220.2 452.4L221.6 450.2L223.3 448.3L225.2 446.8L227.2 445.7L229.2 445.1L231.3 444.9L233.4 445.2L235.4 446.0L237.3 447.3L239.0 448.9L240.6 451.0L241.8 453.3L242.8 456.0L243.5 458.8L243.9 461.8L243.9 464.8Z"/>
<path class="s" d="M228.2 482.2L226.8 481.7L225.5 480.9L224.3 479.8L223.1 478.6L222.1 477.1L221.2 475.5L220.4 473.7L219.8 471.8L219.3 469.8L219.0 467.7L218.9 465.5L218.9 463.4L219.1 461.2L219.5 459.1L220.0 457.1L220.7 455.1L221.5 453.3L222.5 451.6L223.6 450.2L224.8 448.9L226.0 447.8L227.4 446.9L228.8 446.3L230.2 445.9"/>
<path class="s" d="M228.2 481.1L227.1 480.5L226.0 479.6L225.0 478.5L224.1 477.3L223.3 475.9L222.5 474.4L221.9 472.7L221.4 471.0L221.1 469.1L220.9 467.2L220.8 465.3L220.8 463.3L221.0 461.4L221.3 459.5L221.8 457.6L222.4 455.8L223.0 454.2L223.8 452.6L224.7 451.2L225.7 450.0L226.8 449.0L227.9 448.1L229.1 447.4L230.3 447.0"/>
<path class="s" d="M238.6 464.8L238.4 467.5L237.9 470.1L237.3 472.6L236.4 474.8L235.5 476.7L234.3 478.3L233.1 479.4L231.9 480.0L230.6 480.2L229.3 479.9L228.1 479.2L227.0 477.9L226.1 476.3L225.3 474.3L224.6 472.1L224.2 469.5L224.0 466.9L224.0 464.1L224.2 461.4L224.7 458.7L225.3 456.3L226.1 454.0L227.1 452.1L228.2 450.6L229.4 449.5L230.7 448.8L232.0 448.6L233.2 448.9L234.4 449.7L235.5 450.9L236.5 452.5L237.3 454.5L238.0 456.8L238.4 459.3L238.6 462.0L238.6 464.8Z"/>
<path class="s" d="M233.5 448.0L234.5 448.5L235.4 449.3L236.3 450.4L237.2 451.7L237.9 453.1L238.5 454.8L239.0 456.6L239.4 458.6L239.6 460.6L239.7 462.7L239.7 464.9L239.5 467.0L239.2 469.1L238.8 471.1L238.2 473.0L237.6 474.8L236.8 476.3L236.0 477.8L235.0 478.9L234.1 479.9L233.0 480.6L232.0 481.0L230.9 481.2L229.8 481.1"/>
<path class="s" d="M235.9 449.8L238.4 448.2"/>
<path class="s" d="M236.9 451.3L239.9 450.0"/>
<path class="s" d="M237.8 453.0L241.2 452.0"/>
<path class="s" d="M238.6 455.1L242.2 454.3"/>
<path class="s" d="M239.2 457.4L243.1 456.8"/>
<path class="s" d="M239.5 459.9L243.6 459.5"/>
<path class="s" d="M239.7 462.5L243.9 462.3"/>
<path class="s" d="M239.7 465.1L243.9 465.1"/>
<path class="s" d="M239.4 467.7L243.6 467.9"/>
<path class="s" d="M239.0 470.2L243.0 470.6"/>
<path class="s" d="M238.4 472.6L242.2 473.2"/>
<path class="s" d="M237.6 474.8L241.1 475.6"/>
<path class="s" d="M236.6 476.8L239.8 477.7"/>
<path class="s" d="M235.5 478.4L238.2 479.6"/>
<path class="s" d="M234.3 479.7L236.6 481.1"/>
<path class="s" d="M233.0 480.6L234.8 482.3"/>
<path class="s" d="M217.5 457.6 L230.5 455.9"/>
<path class="s" d="M218.0 465.9 L235.5 464.0"/>
<path class="s" d="M219.0 473.3 L230.0 472.0"/>
<path class="s" d="M234.0 471.6 L235.3 471.5"/>
<path class="sw" d="M233.0 450.0L232.2 441.0L232.6 436.5L234.5 434.6L237.0 434.8L238.6 437.0L239.0 442.0L239.6 449.5Z"/>
<path class="s" d="M234.0 437.8 L238.9 437.2"/>
<path class="s" d="M234.0 439.6 L238.9 439.0"/>
<path class="s" d="M234.0 441.4 L238.9 440.8"/>
<path class="s" d="M234.0 443.2 L238.9 442.6"/>
<path class="s" d="M234.0 445.0 L238.9 444.4"/>
<path class="s" d="M234.0 446.8 L238.9 446.2"/>
<path class="s" d="M234.0 448.6 L238.9 448.0"/>
<path class="sw" d="M232.3 449.0L240.6 448.2L241.3 452.4L234.6 453.4L232.6 452.6Z"/>
<path class="s" d="M235.6 449.0 L236.2 453.0"/>
<path class="q" d="M579.5 440.2L605.5 423.3"/>
<path class="q" d="M583.0 447.6L608.3 432.6"/>
<path class="qw" d="M580.4 444.3L581.1 445.9L581.4 447.5L581.3 449.0L580.8 450.1L580.0 450.8L579.0 451.1L577.8 450.8L576.5 450.1L575.4 448.9L574.4 447.5L573.7 445.9L573.4 444.3L573.5 442.8L574.0 441.7L574.8 441.0L575.8 440.7L577.0 441.0L578.3 441.7L579.4 442.9L580.4 444.3Z"/>
<path class="q" d="M577.0 439.8L577.8 439.5L578.8 439.6L579.9 440.1L580.9 440.8L581.8 441.9L582.6 443.1L583.2 444.4L583.5 445.8L583.6 447.1L583.4 448.2L582.9 449.1L582.2 449.6"/>
<path class="qw" d="M550.9 472.5L549.5 471.8L548.2 470.7L547.0 469.5L546.1 468.0L545.3 466.2L544.6 464.3L544.2 462.2L544.0 460.0L544.0 457.7L544.2 455.4L544.6 453.0L545.2 450.7L546.0 448.5L547.0 446.4L548.1 444.4L549.4 442.7L550.8 441.1L552.3 439.8L553.8 438.7L555.4 437.9L557.0 437.4L558.6 437.2L560.1 437.4L561.6 437.8L569.4 441.0L570.8 441.7L572.1 442.7L573.2 444.0L574.2 445.5L575.0 447.2L575.6 449.1L576.0 451.2L576.2 453.4L576.2 455.7L576.0 458.0L575.6 460.4L575.0 462.7L574.2 464.9L573.3 467.0L572.1 469.0L570.9 470.8L569.5 472.3L568.0 473.7L566.4 474.7L564.8 475.5L563.2 476.0L561.7 476.2L560.1 476.1L558.6 475.6Z"/>
<path class="q" d="M558.6 475.6L557.2 474.9L555.9 473.9L554.8 472.6L553.8 471.1L553.0 469.4L552.4 467.5L552.0 465.4L551.8 463.2L551.8 460.9L552.0 458.6L552.4 456.2L553.0 453.9L553.8 451.7L554.7 449.6L555.9 447.6L557.1 445.8L558.5 444.3L560.0 442.9L561.6 441.9L563.2 441.1L564.8 440.6L566.3 440.4L567.9 440.5L569.4 441.0"/>
<ellipse class="q" cx="563.2" cy="450.0" rx="1.9" ry="2.6" transform="rotate(20 563.2 450.0)"/>
<ellipse class="q" cx="563.6" cy="466.5" rx="1.9" ry="2.6" transform="rotate(20 563.6 466.5)"/>
<ellipse class="q" cx="553.3" cy="460.3" rx="1.9" ry="2.6" transform="rotate(20 553.3 460.3)"/>
<ellipse class="qs" cx="553.7" cy="444.6" rx="1.6" ry="2.2" transform="rotate(20 553.7 444.6)"/>
<ellipse class="qs" cx="547.2" cy="456.7" rx="1.6" ry="2.2" transform="rotate(20 547.2 456.7)"/>
<path class="qw" d="M547.5 459.3L538.0 461.5L536.3 466.0L539.0 470.3L548.0 470.8"/>
<path class="qw" d="M542.0 465.5L542.2 467.5L542.1 469.3L541.6 470.5L540.9 471.1L540.0 470.9L539.0 469.9L538.2 468.4L537.6 466.5L537.4 464.5L537.5 462.7L538.0 461.5L538.7 460.9L539.6 461.1L540.6 462.1L541.4 463.6L542.0 465.5Z"/>
<path class="q" d="M541.9 460.3L542.6 460.4L543.4 461.0L544.1 462.0L544.7 463.4L545.2 464.9L545.4 466.5L545.4 468.0L545.1 469.2L544.7 470.1L544.1 470.5"/>
<path class="qw" d="M518.5 478.0L518.5 462.5L519.5 458.5L522.5 456.0L526.5 456.0L530.0 458.5L536.5 463.5L538.5 469.5L539.8 471.0L539.8 483.0L518.5 483.0Z"/>
<path class="q" d="M526.2 476.2L526.2 468.6L534.0 475.4L526.2 476.2"/>
<path class="qw" d="M503.9 486.3L503.9 503.5L503.9 503.5L504.1 504.4L504.5 505.4L505.3 506.3L506.4 507.1L507.7 507.9L509.3 508.6L511.1 509.2L513.1 509.7L515.3 510.2L517.6 510.5L520.0 510.6L522.4 510.7L524.8 510.6L527.2 510.5L529.5 510.2L531.6 509.7L533.7 509.2L535.5 508.6L537.1 507.9L538.4 507.1L539.5 506.3L540.3 505.4L540.7 504.4L540.9 503.5L540.9 486.3Z"/>
<ellipse class="qw" cx="522.4" cy="486.3" rx="18.5" ry="9.3"/>
<ellipse class="q" cx="509.3" cy="486.0" rx="2.8" ry="1.7"/>
<ellipse class="q" cx="535.3" cy="486.0" rx="2.8" ry="1.7"/>
<path class="q" d="M648.0 232.6L642.8 235.7L638.6 237.3L636.5 240.5L638.1 243.6L640.7 245.8L639.7 248.9L634.4 249.5L630.7 251.0L628.6 253.7L628.0 256.8L625.4 258.4L621.7 260.5L620.9 264.0L620.7 267.4L622.6 269.5L620.5 275.0L619.1 281.9L617.9 284.5L618.2 292.0L618.4 300.0L618.0 310.0L618.4 318.0L617.6 323.0L618.4 329.0L618.4 338.0L617.7 343.5L619.5 349.0L624.0 358.0L630.5 368.5L636.0 377.0L641.0 382.5L648.0 386.5"/>
<path class="q" d="M648.0 235.8L647.8 235.8L647.6 235.9L647.3 235.9L647.0 235.9L646.6 235.9L646.3 236.0L645.9 236.1L645.6 236.1L645.2 236.3L644.9 236.4L644.6 236.6L644.2 236.8L643.9 237.0L643.5 237.2L643.2 237.5L642.9 237.8L642.5 238.0L642.3 238.3L642.0 238.6L641.8 238.9L641.6 239.2L641.5 239.5L641.4 239.8L641.3 240.2L641.2 240.5L641.2 240.8L641.2 241.2L641.2 241.5L641.2 241.8L641.3 242.1L641.4 242.4L641.5 242.7L641.7 243.0L641.8 243.2L642.0 243.5L642.3 243.8L642.5 244.0L642.8 244.3L643.1 244.5L643.4 244.7L643.8 244.9L644.2 245.1L644.7 245.3L645.3 245.5L645.8 245.6L646.4 245.8L646.9 245.9L647.3 246.0L647.7 246.1L648.0 246.2"/>
<path class="q" d="M639.7 250.5L639.6 250.7L639.6 251.0L639.5 251.3L639.4 251.6L639.3 252.0L639.2 252.4L639.1 252.8L638.9 253.1L638.8 253.4L638.6 253.7L638.4 253.9L638.2 254.2L637.9 254.4L637.7 254.6L637.4 254.8L637.1 255.0L636.8 255.1L636.5 255.2L636.3 255.3L636.0 255.3L635.7 255.3L635.4 255.2L635.1 255.0L634.8 254.8L634.5 254.6L634.3 254.4L634.0 254.2L633.8 254.0L633.6 253.8L633.4 253.7"/>
<path class="q" d="M629.6 263.2L629.9 263.2L630.2 263.3L630.6 263.4L631.0 263.5L631.5 263.6L632.0 263.7L632.5 263.7L633.0 263.8L633.5 263.9L634.0 263.9L634.5 263.9L634.9 263.9L635.4 264.0L635.9 264.0L636.4 264.0L636.9 264.0L637.3 263.9L637.8 263.9L638.2 263.8L638.6 263.7L639.0 263.6L639.3 263.4L639.6 263.1L639.8 262.8L640.1 262.6L640.4 262.3L640.7 262.1L641.0 261.8L641.4 261.7L641.8 261.6L642.3 261.6L642.9 261.6L643.6 261.7L644.4 261.9L645.1 262.0L645.8 262.2L646.5 262.4L647.1 262.5L647.6 262.6L648.0 262.7"/>
<path class="q" d="M625.4 261.0L624.6 272.0L623.8 282.0"/>
<path class="q" d="M630.2 264.2L628.6 271.0L627.6 278.0L626.8 283.5L627.8 288.0L627.2 293.0L625.2 296.0L625.2 305.0L627.0 308.5L630.5 311.5L629.5 317.0L630.7 322.0L627.5 327.0L624.2 331.0L624.4 336.0L626.0 340.0L629.3 343.4L630.7 351.6L636.0 362.0L641.5 370.0L648.0 376.0"/>
<ellipse class="q" cx="632.8" cy="257.4" rx="2.5" ry="3.4" transform="rotate(20 632.8 257.4)"/>
<ellipse class="q" cx="643.9" cy="257.4" rx="2.5" ry="3.4" transform="rotate(20 643.9 257.4)"/>
<ellipse class="q" cx="623.3" cy="286.4" rx="2.1" ry="2.9" transform="rotate(20 623.3 286.4)"/>
<ellipse class="q" cx="623.3" cy="323.2" rx="2.1" ry="2.9" transform="rotate(20 623.3 323.2)"/>
<ellipse class="q" cx="623.4" cy="343.6" rx="2.1" ry="2.9" transform="rotate(20 623.4 343.6)"/>
<ellipse class="q" cx="640.3" cy="376.0" rx="2.1" ry="2.9" transform="rotate(20 640.3 376.0)"/>
<ellipse class="q" cx="623.9" cy="310.8" rx="1.1" ry="1.5" transform="rotate(20 623.9 310.8)"/>
<ellipse class="p2" cx="646.8" cy="240.5" rx="2.6" ry="3.0" transform="rotate(15 646.8 240.5)"/>
<ellipse class="sg" cx="647.2" cy="240.7" rx="1.3" ry="1.6" transform="rotate(15 647.2 240.7)"/>
<path class="q" d="M629.1 279.0 L648.0 268.5"/>
<path class="q" d="M636.0 291.8 L648.0 286.2"/>
<path class="q" d="M636.0 317.6 L648.0 310.8"/>
<path class="q" d="M632.4 352.3 L648.0 343.2"/>
<path class="q" d="M638.2 365.5 L648.0 360.0"/>
<path class="qs" d="M627.0 263.2L648.0 273.7"/>
<path class="qs" d="M633.0 287.5L633.0 292.0"/>
<path class="q" d="M631.5 293.5L631.5 293.9L631.4 294.3L631.3 294.9L631.3 295.5L631.2 296.2L631.1 296.9L631.0 297.7L631.0 298.4L631.0 299.2L631.0 300.0L631.0 300.8L631.1 301.7L631.2 302.6L631.3 303.6L631.5 304.6L631.6 305.6L631.7 306.5L631.9 307.4L632.0 308.3L632.2 309.0L632.4 309.7L632.6 310.3L632.8 311.0L633.0 311.5L633.2 312.1L633.4 312.6L633.6 313.0L633.7 313.4L633.9 313.7L634.0 314.0"/>
<path class="q" d="M630.0 313.0L630.2 313.3L630.4 313.7L630.6 314.1L630.9 314.6L631.2 315.2L631.5 315.8L631.8 316.3L632.1 316.9L632.3 317.5L632.5 318.0L632.7 318.5L632.9 319.0L633.0 319.5L633.2 320.0L633.3 320.5L633.5 321.0L633.5 321.5L633.6 322.0L633.6 322.5L633.5 323.0L633.4 323.5L633.2 324.0L632.9 324.4L632.6 324.9L632.2 325.4L631.9 325.9L631.5 326.3L631.2 326.7L630.8 327.1L630.5 327.5L630.2 327.8L629.9 328.2L629.5 328.5L629.2 328.8L628.8 329.0L628.5 329.3L628.2 329.5L627.9 329.7L627.7 329.9L627.5 330.0"/>
<path class="q" d="M628.5 331.0L628.6 331.3L628.6 331.7L628.7 332.2L628.8 332.7L628.8 333.3L628.9 333.9L629.1 334.5L629.2 335.0L629.3 335.6L629.5 336.0L629.7 336.4L629.9 336.7L630.2 337.1L630.4 337.4L630.7 337.7L631.0 337.9L631.2 338.2L631.5 338.5L631.8 338.7L632.0 339.0L632.2 339.3L632.5 339.6L632.7 339.9L632.9 340.2L633.2 340.4L633.4 340.7L633.6 340.9L633.7 341.2L633.9 341.4L634.0 341.5"/>
<path class="qs" d="M634.2 322.0L634.2 345.0"/>
<path class="q" d="M622.7 354.5L629.5 366.5"/>
<path class="qs" d="M630.3 368.0L632.7 371.5"/>
<path class="c" d="M616.4 256.0L621.4 259.6"/>
<path class="q" d="M622.6 259.2L624.2 257.0L626.2 258.0"/>
<path class="pd" d="M259.0 64.5L265.8 64.5L306.5 84.2L307.6 87.5L307.2 90.5L291.1 125.0L285.7 140.0L281.6 146.7L268.0 157.6L263.9 161.7L259.8 173.9L249.5 202.0L241.5 234.0L239.5 240.5"/>
<path class="pd" d="M304.3 88.2L288.4 124.2L283.2 138.8L279.4 145.2L266.0 155.8L261.6 160.4L257.4 172.6L247.0 201.0L238.7 233.5"/>
<path class="pd" d="M259.0 64.5L245.4 79.5L237.1 100.0L225.6 129.2"/>
<path class="pd" d="M239.5 240.5L222.0 236.0"/>
<path class="s" d="M265.8 65.2L259.2 83.4"/>
<path class="p" d="M268.4 66.6L262.0 83.6"/>
<path class="s" d="M265.8 65.2L305.4 84.6"/>
<path class="s" d="M289.5 75.6L304.6 83.0"/>
<path class="pd3" d="M259.2 83.4L287.5 99.4"/>
<path class="ps" d="M261.4 81.6L286.2 95.0"/>
<path class="s" d="M293.2 83.6L287.5 99.4"/>
<path class="p" d="M277.3 71.3L272.0 84.0"/>
<path class="s" d="M259.2 83.4L272.0 84.0"/>
<path class="s" d="M293.0 88.3L292.1 89.0L291.1 89.4L290.1 89.6L289.1 89.4L288.1 89.0L287.3 88.2L286.7 87.3L286.3 86.2L286.2 84.9L286.3 83.7L286.6 82.5L287.2 81.4L287.9 80.4L288.8 79.7L289.8 79.3L290.9 79.2L291.9 79.4L292.8 79.9L293.6 80.7L294.1 81.7"/>
<path class="s" d="M292.6 88.2L291.8 88.6L290.9 88.8L290.1 88.6L289.3 88.1L288.7 87.4L288.3 86.5L288.2 85.4L288.2 84.3L288.6 83.2L289.1 82.2L289.8 81.5L290.6 81.0L291.4 80.8L292.3 81.0L293.0 81.4L293.6 82.1"/>
<path class="s" d="M293.2 80.2L296.4 81.6"/>
<path class="s" d="M292.6 89.2L291.6 92.0"/>
<path class="p2" d="M254.6 107.6L277.0 118.8L277.6 120.4L274.6 128.0L273.2 128.6L251.2 117.6L250.6 116.0L253.4 108.2Z"/>
<path class="k15" d="M254.8 107.2L268.5 113.8"/>
<path class="s" d="M269.9 123.3L269.3 124.6L268.6 125.6L267.7 126.3L266.8 126.6L265.9 126.5L265.2 126.0L264.7 125.2L264.5 124.1L264.5 122.8L264.9 121.5L265.5 120.2L266.2 119.2L267.1 118.5L268.0 118.2L268.9 118.3L269.6 118.8L270.1 119.6L270.3 120.7L270.3 122.0L269.9 123.3Z"/>
<path class="s" d="M269.6 119.2L270.3 119.0L270.9 119.0L271.5 119.3L272.0 119.7L272.3 120.4L272.5 121.2L272.5 122.1L272.4 123.0L272.2 124.0L271.8 124.9L271.3 125.7L270.7 126.4L270.0 127.0L269.4 127.3L268.7 127.4L268.1 127.3"/>
<ellipse class="p2" cx="252.9" cy="89.0" rx="1.4" ry="1.7" transform="rotate(0 252.9 89.0)"/>
<ellipse class="p2" cx="242.7" cy="112.9" rx="1.4" ry="1.7" transform="rotate(0 242.7 112.9)"/>
<ellipse class="p2" cx="280.0" cy="109.4" rx="1.4" ry="1.7" transform="rotate(0 280.0 109.4)"/>
<ellipse class="p2" cx="290.2" cy="110.0" rx="1.4" ry="1.7" transform="rotate(0 290.2 110.0)"/>
<ellipse class="p2" cx="281.6" cy="141.3" rx="1.4" ry="1.7" transform="rotate(0 281.6 141.3)"/>
<path class="w" d="M212.2 130.2L214.4 128.9L230.2 134.9L243.0 141.5L252.6 146.4L257.5 149.7L260.8 155.1L260.2 159.5L256.9 161.7L249.3 160.8L245.0 172.0L241.5 181.3L248.7 186.2L250.9 191.1L246.5 190.0L242.1 190.8L238.5 203.0L234.5 215.0L232.0 226.0L230.5 236.3L212.0 228.0L193.1 219.3L190.3 212.2L180.5 207.8L178.3 203.5L180.5 198.0L183.0 189.5L187.6 183.7L193.1 177.7L203.0 168.0L206.5 158.0L204.5 150.0L209.0 144.5L206.0 138.5L208.5 132.5Z"/>
<path class="s" d="M211.6 131.4L212.2 130.2L214.4 128.9L230.2 134.9"/>
<path class="k15" d="M222.0 131.9L230.6 135.2"/>
<path class="s" d="M211.6 131.1L213.3 136.2L214.9 142.6"/>
<path class="s" d="M252.6 146.4L257.5 149.7L260.8 155.1L260.2 159.5L256.9 161.7"/>
<path class="ps" d="M256.9 161.7L249.3 160.6"/>
<path class="k15" d="M240.4 141.0L243.6 142.6"/>
<path class="k15" d="M252.6 146.6L256.2 148.8"/>
<path class="s" d="M216.5 134.4 L216.0 144.2"/>
<path class="s" d="M221.5 136.0 L219.3 144.6"/>
<path class="s" d="M225.3 137.7 L223.7 146.6"/>
<path class="s" d="M230.8 139.8 L227.5 149.9"/>
<path class="s" d="M235.1 141.5 L231.8 152.0"/>
<path class="s" d="M242.5 145.8 L239.5 154.5"/>
<path class="s" d="M219.3 144.6L219.4 144.7L219.5 144.9L219.7 145.1L219.8 145.3L220.0 145.5L220.2 145.7L220.4 145.9L220.6 146.1L220.8 146.3L221.0 146.4L221.2 146.5L221.5 146.5L221.8 146.6L222.1 146.6L222.5 146.6L222.8 146.6L223.1 146.6L223.3 146.6L223.5 146.6L223.7 146.6"/>
<path class="s" d="M227.5 149.9L227.6 150.0L227.8 150.2L227.9 150.4L228.1 150.6L228.3 150.8L228.5 151.1L228.7 151.3L229.0 151.5L229.2 151.7L229.4 151.8L229.6 151.9L229.9 152.0L230.2 152.0L230.4 152.0L230.7 152.0L231.0 152.0L231.2 152.0L231.5 152.0L231.7 152.0L231.8 152.0"/>
<path class="s" d="M233.2 151.8L233.4 151.3L233.6 150.7L233.8 149.9L234.1 149.0L234.4 148.1L234.7 147.2L235.0 146.3L235.4 145.6L235.6 144.9L235.9 144.4L236.1 144.1L236.4 143.8L236.6 143.7L236.8 143.6L237.0 143.6L237.2 143.7L237.4 143.8L237.6 143.8L237.8 143.9L238.0 144.0L238.2 144.0L238.5 144.1L238.8 144.1L239.0 144.2L239.3 144.3L239.6 144.4L239.8 144.5L239.9 144.8L240.0 145.1L240.0 145.5L239.9 146.0L239.7 146.7L239.4 147.5L239.1 148.4L238.8 149.3L238.4 150.2L238.0 151.1L237.6 151.8L237.3 152.5L237.0 153.0L236.8 153.4L236.5 153.6L236.3 153.8L236.1 153.9L235.9 153.9L235.7 153.9L235.6 153.8L235.4 153.7L235.2 153.7L235.0 153.6L234.8 153.5L234.6 153.4L234.4 153.2L234.2 153.0L234.0 152.7L233.8 152.5L233.6 152.3L233.4 152.1L233.3 151.9L233.2 151.8"/>
<path class="s" d="M244.5 148.5L240.0 162.0"/>
<path class="sw" d="M231.2 138.5L233.5 131.3L241.5 133.8L239.2 141.1Z"/>
<path class="sw" d="M234.2 131.5L237.2 122.0L238.1 121.2L243.5 122.9L243.7 124.0L240.7 133.6Z"/>
<path class="p" d="M237.4 128.4L239.2 122.8L241.7 123.6L239.9 129.2Z"/>
<path class="s" d="M231.6 137.4L239.6 139.9"/>
<path class="sw" d="M243.4 145.9L245.7 138.7L253.7 141.2L251.4 148.5Z"/>
<path class="sw" d="M246.4 138.9L249.4 129.4L250.3 128.6L255.7 130.3L255.9 131.4L252.9 141.0Z"/>
<path class="p" d="M249.6 135.8L251.4 130.2L253.9 131.0L252.1 136.6Z"/>
<path class="s" d="M243.8 144.8L251.8 147.3"/>
<path class="pd2" d="M249.3 151.8L245.5 163.0L241.0 180.7"/>
<path class="s" d="M247.7 150.8L247.9 150.9L248.2 151.1L248.5 151.3L248.9 151.5L249.3 151.8L249.7 152.1L250.1 152.3L250.5 152.6L250.8 152.9L251.0 153.2L251.2 153.5L251.3 153.8L251.4 154.1L251.5 154.5L251.6 154.8L251.6 155.1L251.6 155.5L251.6 155.8L251.6 156.2L251.6 156.5L251.5 156.8L251.5 157.2L251.3 157.6L251.2 158.0L251.0 158.4L250.9 158.7L250.7 159.1L250.6 159.4L250.5 159.6L250.4 159.8"/>
<path class="s" d="M231.2 180.2L241.0 181.3"/>
<path class="ps" d="M241.0 181.3L248.7 186.2"/>
<path class="s" d="M243.2 188.4L250.9 191.1"/>
<path class="s" d="M248.7 186.2L248.8 186.3L249.0 186.5L249.2 186.7L249.4 186.9L249.6 187.1L249.9 187.4L250.1 187.6L250.3 187.9L250.5 188.1L250.6 188.4L250.7 188.7L250.8 189.0L250.8 189.3L250.8 189.6L250.9 189.9L250.9 190.2L250.9 190.5L250.9 190.7L250.9 190.9L250.9 191.1"/>
<path class="s" d="M242.1 190.6L242.0 190.8L241.9 191.0L241.9 191.3L241.7 191.7L241.6 192.0L241.5 192.4L241.3 192.7L241.2 193.1L241.0 193.4L240.8 193.6L240.6 193.8L240.4 194.0L240.2 194.2L240.0 194.4L239.7 194.6L239.5 194.7L239.2 194.8L238.8 194.9L238.4 195.0L238.0 195.0L237.5 195.0L236.8 194.9L236.0 194.8L235.2 194.6L234.4 194.5L233.6 194.3L232.9 194.2L232.2 194.0L231.6 193.9L231.2 193.8"/>
<path class="pd2" d="M242.1 190.6L238.5 203.0L234.5 214.6"/>
<path class="s" d="M232.3 171.0L226.8 179.7"/>
<path class="s" d="M229.8 165.7L224.0 176.5"/>
<path class="s" d="M236.5 166.5L233.0 176.0"/>
<path class="s" d="M234.5 163.0L243.0 161.0L243.4 158.0"/>
<path class="s" d="M230.1 196.0L225.7 208.0"/>
<path class="s" d="M220.3 200.4L223.6 209.1"/>
<path class="s" d="M215.9 211.3L234.5 217.9L231.8 226.4"/>
<path class="s" d="M237.8 212.4L243.2 213.5"/>
<path class="s" d="M233.7 155.6L234.2 155.6L235.0 155.6L235.8 155.7L236.8 155.7L237.8 155.7L238.8 155.7L239.8 155.8L240.8 155.9L241.6 156.0L242.2 156.1L242.7 156.3L243.1 156.5L243.4 156.7L243.7 156.9L243.9 157.2L244.1 157.4L244.2 157.7L244.4 158.0L244.5 158.3L244.6 158.6L244.7 158.9L244.8 159.2L244.8 159.6L244.8 159.9L244.8 160.3L244.8 160.6L244.7 161.0L244.7 161.3L244.7 161.7L244.6 162.0L244.5 162.3L244.5 162.7L244.4 163.0L244.4 163.3L244.3 163.7L244.2 164.0L244.1 164.3L243.9 164.6L243.8 164.9L243.6 165.2L243.4 165.5L243.2 165.7L243.1 166.0L242.9 166.2L242.7 166.4L242.4 166.6L242.1 166.9L241.7 167.0L241.3 167.2L240.7 167.4L240.0 167.6L239.1 167.7L238.1 167.8L237.0 168.0L235.9 168.1L234.8 168.2L233.7 168.3L232.8 168.4L232.0 168.4L231.4 168.5"/>
<path class="s" d="M234.5 168.5L227.5 178.2"/>
<path class="s" d="M212.0 173.6 L219.8 163.5"/>
<path class="s" d="M216.7 175.9 L222.1 166.6"/>
<path class="s" d="M219.8 175.1 L225.2 166.6"/>
<path class="p" d="M222.0 175.5L231.5 172.0"/>
<path class="s" d="M215.0 198.0L215.4 198.1L216.0 198.1L216.6 198.2L217.4 198.3L218.1 198.3L218.9 198.4L219.7 198.6L220.4 198.7L221.0 198.8L221.5 199.0L221.9 199.2L222.2 199.4L222.5 199.6L222.7 199.8L222.9 200.1L223.1 200.4L223.2 200.6L223.3 200.9L223.3 201.3L223.4 201.6L223.4 202.0L223.4 202.4L223.4 202.8L223.4 203.3L223.3 203.8L223.2 204.3L223.1 204.8L222.9 205.2L222.8 205.6L222.6 206.0L222.4 206.3L222.2 206.7L222.0 207.0L221.7 207.3L221.5 207.5L221.2 207.8L220.8 208.0L220.5 208.2L220.1 208.4L219.6 208.6L219.1 208.7L218.4 208.8L217.7 208.9L216.9 208.9L216.1 209.0L215.3 209.0L214.6 209.0L214.0 209.0L213.4 209.0L213.0 209.0"/>
<path class="s" d="M187.6 183.7L193.1 177.7L204.0 185.9"/>
<path class="s" d="M187.2 184.3L185.5 188.2"/>
<path class="s" d="M178.3 203.5L180.5 207.8L190.3 212.2"/>
<path class="s" d="M178.3 203.5L180.0 199.5"/>
<path class="s" d="M195.7 206.7L191.9 217.1"/>
<path class="s" d="M203.4 208.9L199.6 219.8"/>
<path class="s" d="M213.8 211.1L209.9 225.3"/>
<path class="pd2" d="M206.5 210.5L203.5 221.0"/>
<path class="p" d="M193.5 207.5L212.0 215.5"/>
<path class="p" d="M221.9 198.0L225.2 212.2L229.6 229.7"/>
<path class="ps" d="M225.6 129.2L214.0 160.0L203.0 190.0"/>
<path class="p" d="M238.3 213.3L241.2 214.4"/>
<path class="p" d="M239.6 222.5L239.5 222.6L239.5 222.6L239.3 222.7L239.2 222.8L239.1 222.9L239.0 223.0L238.9 223.2L238.8 223.6L238.7 224.0L238.6 224.5L238.5 225.2L238.5 226.1L238.4 227.2L238.4 228.3L238.4 229.5L238.3 230.7L238.3 231.8L238.3 232.9L238.4 233.8L238.4 234.5L238.5 235.0L238.6 235.5L238.7 235.8L238.8 236.0L239.0 236.2L239.1 236.3L239.3 236.4L239.4 236.4L239.5 236.5L239.6 236.6"/>
<path class="ps" d="M240.6 223.0L240.6 236.0"/>
<circle class="sw" cx="209.0" cy="138.8" r="4.1"/>
<circle class="sg" cx="209.3" cy="139.0" r="2.3"/>
<circle class="s" cx="209.4" cy="139.1" r="1.0"/>
<path class="sw" d="M192.9 148.1L194.0 147.2L196.4 146.2L197.8 145.9L225.9 150.1L224.5 159.4L196.5 155.2L195.1 154.5L193.2 152.9L192.3 151.7Z"/>
<path class="s" d="M196.3 155.0L195.8 154.7L195.4 154.0L195.2 153.0L195.1 151.7L195.3 150.3L195.6 148.9L196.0 147.7L196.5 146.8L197.1 146.2L197.6 146.1"/>
<path class="p" d="M194.1 153.2L193.8 153.0L193.6 152.5L193.4 151.8L193.4 151.0L193.5 150.0L193.7 149.1L194.0 148.3L194.3 147.7L194.7 147.3L195.0 147.2"/>
<path class="p" d="M194.6 150.2L194.4 151.0L194.0 151.6L193.6 151.8L193.3 151.5L193.2 150.8L193.2 150.0L193.4 149.2L193.8 148.6L194.1 148.4L194.4 148.7L194.6 149.3L194.6 150.2Z"/>
<path class="sg" d="M204.2 146.9L203.5 147.1L202.8 148.1L202.2 149.5L201.8 151.3L201.7 153.1L201.8 154.6L202.2 155.7L202.8 156.2L206.9 156.8L206.3 156.3L206.0 155.3L205.8 153.7L206.0 151.9L206.3 150.1L206.9 148.7L207.6 147.8L208.3 147.5Z"/>
<path class="sg2" d="M216.0 148.7L215.3 148.9L214.6 149.8L214.1 151.3L213.7 153.0L213.5 154.8L213.7 156.4L214.1 157.5L214.7 157.9L217.2 158.3L216.6 157.9L216.2 156.8L216.1 155.2L216.2 153.4L216.6 151.7L217.2 150.2L217.9 149.3L218.6 149.0Z"/>
<path class="s" d="M199.4 155.7L198.8 155.2L198.4 154.1L198.3 152.6L198.4 150.8L198.8 149.0L199.4 147.6L200.1 146.6L200.8 146.4"/>
<path class="s" d="M210.1 157.3L209.5 156.8L209.1 155.7L209.0 154.2L209.1 152.4L209.5 150.6L210.1 149.2L210.8 148.2L211.5 148.0"/>
<path class="s" d="M221.6 159.0L221.0 158.5L220.6 157.4L220.5 155.9L220.6 154.1L221.0 152.3L221.6 150.9L222.3 149.9L223.0 149.7"/>
<path class="p" d="M211.1 150.3L215.7 151.0"/>
<path class="p" d="M210.5 154.7L215.0 155.4"/>
<path class="sw" d="M205.9 156.3L207.1 155.4L209.5 154.1L210.9 153.7L234.6 156.9L233.3 166.8L209.6 163.7L208.3 163.0L206.3 161.1L205.5 159.9Z"/>
<path class="s" d="M209.4 163.4L208.9 163.1L208.6 162.4L208.3 161.3L208.3 159.9L208.4 158.5L208.7 157.0L209.1 155.7L209.6 154.7L210.1 154.1L210.7 153.9"/>
<path class="p" d="M207.3 161.3L207.0 161.1L206.7 160.7L206.6 160.0L206.5 159.1L206.6 158.2L206.8 157.3L207.0 156.5L207.4 155.9L207.7 155.5L208.1 155.4"/>
<path class="p" d="M207.7 158.4L207.5 159.2L207.1 159.8L206.8 160.0L206.4 159.7L206.3 159.0L206.3 158.2L206.5 157.3L206.8 156.8L207.2 156.6L207.5 156.9L207.7 157.5L207.7 158.4Z"/>
<path class="sg" d="M217.3 154.6L216.6 154.9L215.9 155.9L215.3 157.4L214.9 159.3L214.8 161.2L215.0 162.9L215.4 164.0L216.0 164.5L220.1 165.0L219.5 164.6L219.1 163.4L219.0 161.8L219.1 159.9L219.5 158.0L220.0 156.4L220.7 155.4L221.4 155.1Z"/>
<path class="sg2" d="M229.2 156.1L228.5 156.4L227.8 157.4L227.2 159.0L226.8 160.9L226.7 162.8L226.8 164.5L227.3 165.6L227.9 166.1L230.4 166.4L229.8 165.9L229.4 164.8L229.3 163.1L229.4 161.2L229.8 159.3L230.4 157.8L231.0 156.8L231.7 156.5Z"/>
<path class="s" d="M212.6 164.0L212.0 163.6L211.6 162.4L211.4 160.8L211.5 158.9L211.9 157.0L212.5 155.4L213.2 154.4L213.9 154.1"/>
<path class="s" d="M223.3 165.5L222.7 165.0L222.3 163.9L222.1 162.2L222.3 160.3L222.6 158.4L223.2 156.8L223.9 155.8L224.6 155.5"/>
<path class="p" d="M224.3 157.9L228.8 158.5"/>
<path class="p" d="M223.6 162.9L228.2 163.5"/>
<path class="sw" d="M175.4 191.8L176.5 190.9L178.9 189.9L180.3 189.6L205.5 193.4L204.1 202.7L179.0 198.9L177.6 198.2L175.7 196.6L174.8 195.4Z"/>
<path class="s" d="M178.8 198.7L178.3 198.4L177.9 197.7L177.7 196.7L177.6 195.4L177.8 194.0L178.1 192.6L178.5 191.4L179.0 190.5L179.6 189.9L180.1 189.8"/>
<path class="p" d="M176.6 196.9L176.3 196.7L176.1 196.2L175.9 195.5L175.9 194.7L176.0 193.7L176.2 192.8L176.5 192.0L176.8 191.4L177.2 191.0L177.5 190.9"/>
<path class="p" d="M177.1 193.9L176.9 194.7L176.5 195.3L176.1 195.5L175.8 195.2L175.7 194.5L175.7 193.7L175.9 192.9L176.3 192.3L176.6 192.1L176.9 192.4L177.1 193.0L177.1 193.9Z"/>
<path class="sg" d="M186.7 190.6L186.0 190.8L185.3 191.8L184.7 193.2L184.3 195.0L184.2 196.8L184.3 198.3L184.7 199.4L185.3 199.9L189.4 200.5L188.8 200.0L188.5 199.0L188.3 197.4L188.5 195.6L188.8 193.8L189.4 192.4L190.1 191.5L190.8 191.2Z"/>
<path class="sg2" d="M198.5 192.4L197.8 192.6L197.1 193.5L196.6 195.0L196.2 196.7L196.0 198.5L196.2 200.1L196.6 201.2L197.2 201.6L199.7 202.0L199.1 201.6L198.7 200.5L198.6 198.9L198.7 197.1L199.1 195.4L199.7 193.9L200.4 193.0L201.1 192.7Z"/>
<path class="s" d="M181.9 199.4L181.3 198.9L180.9 197.8L180.8 196.3L180.9 194.5L181.3 192.7L181.9 191.3L182.6 190.3L183.3 190.1"/>
<path class="s" d="M192.6 201.0L192.0 200.5L191.6 199.4L191.5 197.9L191.6 196.1L192.0 194.3L192.6 192.9L193.3 191.9L194.0 191.7"/>
<path class="p" d="M193.6 194.0L198.2 194.7"/>
<path class="p" d="M193.0 198.4L197.5 199.1"/>
<path class="sw" d="M181.8 199.2L183.0 198.3L185.4 197.0L186.8 196.6L216.0 200.5L214.7 210.4L185.5 206.6L184.2 205.9L182.2 204.0L181.4 202.8Z"/>
<path class="s" d="M185.3 206.3L184.8 206.0L184.5 205.3L184.2 204.2L184.2 202.8L184.3 201.4L184.6 199.9L185.0 198.6L185.5 197.6L186.0 197.0L186.6 196.8"/>
<path class="p" d="M183.2 204.2L182.9 204.0L182.6 203.6L182.5 202.9L182.4 202.0L182.5 201.1L182.7 200.2L182.9 199.4L183.3 198.8L183.6 198.4L184.0 198.3"/>
<path class="p" d="M183.6 201.3L183.4 202.1L183.0 202.7L182.7 202.9L182.3 202.6L182.2 201.9L182.2 201.1L182.4 200.2L182.7 199.7L183.1 199.5L183.4 199.8L183.6 200.4L183.6 201.3Z"/>
<path class="sg" d="M193.2 197.5L192.5 197.8L191.8 198.8L191.2 200.3L190.8 202.2L190.7 204.1L190.9 205.8L191.3 206.9L191.9 207.4L196.0 207.9L195.4 207.5L195.0 206.3L194.9 204.7L195.0 202.8L195.4 200.9L195.9 199.3L196.6 198.3L197.3 198.0Z"/>
<path class="sg2" d="M205.1 199.0L204.4 199.3L203.7 200.3L203.1 201.9L202.7 203.8L202.6 205.7L202.7 207.4L203.2 208.5L203.8 209.0L206.3 209.3L205.7 208.8L205.3 207.7L205.2 206.0L205.3 204.1L205.7 202.2L206.3 200.7L206.9 199.7L207.6 199.4Z"/>
<path class="s" d="M188.5 206.9L187.9 206.5L187.5 205.3L187.3 203.7L187.4 201.8L187.8 199.9L188.4 198.3L189.1 197.3L189.8 197.0"/>
<path class="s" d="M199.2 208.4L198.6 207.9L198.2 206.8L198.0 205.1L198.2 203.2L198.5 201.3L199.1 199.7L199.8 198.7L200.5 198.4"/>
<path class="s" d="M210.7 209.9L210.1 209.4L209.7 208.3L209.5 206.6L209.7 204.7L210.0 202.8L210.6 201.3L211.3 200.3L212.0 200.0"/>
<path class="p" d="M200.2 200.8L204.7 201.4"/>
<path class="p" d="M199.5 205.8L204.1 206.4"/>
<path class="sg" d="M179.5 171.0L180.0 172.6L180.0 174.1L179.7 175.3L179.0 175.9L178.1 175.9L177.0 175.3L176.0 174.2L175.3 172.8L174.8 171.2L174.8 169.7L175.1 168.5L175.8 167.9L176.7 167.9L177.8 168.5L178.8 169.6L179.5 171.0Z"/>
<path class="sg" d="M175.6 168.1L179.9 166.4L183.0 174.2L178.8 175.9Z"/>
<path class="s" d="M176.7 167.7L179.9 175.4"/>
<path class="s" d="M177.9 167.2L181.0 175.0"/>
<path class="s" d="M179.0 166.8L182.1 174.5"/>
<path class="sw" d="M178.9 166.9L181.5 163.6L184.4 161.9L190.0 162.2L195.8 163.6L200.6 166.2L202.8 169.5L203.0 172.0L200.5 174.4L197.5 174.6L194.0 173.4L191.0 172.9L186.0 174.4L182.2 175.2Z"/>
<path class="s" d="M188.2 162.2L189.9 171.8L191.0 172.9"/>
<path class="s" d="M195.8 163.6L197.0 172.8"/>
<path class="s" d="M189.9 171.8L182.6 174.8"/>
<path class="sg" d="M199.8 165.8L202.6 168.6L203.0 172.2L200.8 174.4L200.2 170.2Z"/>
<path class="sw" d="M203.0 180.4L209.0 179.8L211.1 188.2L204.2 188.6Z"/>
<path class="sw" d="M209.7 176.2L209.3 177.4L208.5 178.4L207.5 179.3L206.4 179.8L205.2 180.0L204.0 179.8L202.9 179.4L202.0 178.6L201.2 177.6L200.8 176.4L200.7 175.1L200.9 173.8L201.3 172.6L202.1 171.6L203.1 170.7L204.2 170.2L205.4 170.0L206.6 170.2L207.7 170.6L208.6 171.4L209.4 172.4L209.8 173.6L209.9 174.9L209.7 176.2Z"/>
<path class="s" d="M209.3 171.1L210.2 171.6L210.9 172.4L211.5 173.3L211.8 174.3L211.9 175.4L211.8 176.5L211.5 177.6L210.9 178.6L210.2 179.4L209.3 180.0L208.3 180.4L207.3 180.6L206.2 180.5L205.3 180.1"/>
<path class="sg" d="M223.7 194.3L223.2 195.2L222.1 195.8L220.5 196.1L218.9 195.9L217.3 195.4L216.0 194.6L215.2 193.5L215.1 192.5L215.6 191.6L216.7 191.0L218.3 190.7L219.9 190.9L221.5 191.4L222.8 192.2L223.6 193.3L223.7 194.3Z"/>
<path class="sg" d="M215.8 188.2L224.0 189.8L223.4 194.6L215.4 192.6Z"/>
<path class="s" d="M215.7 189.5 L223.8 191.1"/>
<path class="s" d="M215.5 190.8 L223.6 192.4"/>
<path class="s" d="M215.4 192.1 L223.4 193.7"/>
<path class="sw" d="M209.0 179.9L212.4 177.8L216.0 177.1L221.0 178.2L225.9 179.9L229.4 182.2L231.4 185.4L231.8 188.2L229.4 190.6L224.8 191.4L220.4 190.2L216.0 189.2L210.8 188.2Z"/>
<path class="s" d="M214.6 177.4L216.4 185.6L216.0 189.2"/>
<path class="s" d="M216.4 185.6L223.2 184.2L224.6 191.2"/>
<path class="s" d="M223.2 184.2L221.2 178.4"/>
<path class="sg" d="M228.2 181.4L231.2 185.2L231.8 188.4L229.6 190.6L229.4 185.8Z"/>
<path class="k" d="M192.5 217.7L204.5 223.7"/>
<path class="k" d="M205.6 224.7L213.2 228.6"/>
<path class="s" d="M191.4 220.4L203.4 226.4"/>
<path class="s" d="M204.6 227.4L212.4 231.2"/>
<path class="s" d="M192.5 217.7L192.4 217.8L192.2 217.9L192.0 218.0L191.8 218.1L191.6 218.3L191.4 218.4L191.2 218.6L191.0 218.7L190.9 218.9L190.8 219.0L190.8 219.1L190.8 219.3L190.8 219.5L190.9 219.6L191.0 219.8L191.1 219.9L191.2 220.1L191.3 220.2L191.4 220.3L191.4 220.4"/>
<path class="s" d="M204.5 223.7L204.4 223.8L204.3 223.9L204.1 224.0L203.9 224.1L203.7 224.3L203.5 224.4L203.4 224.6L203.2 224.7L203.1 224.9L203.0 225.0L203.0 225.1L203.0 225.3L203.0 225.5L203.0 225.6L203.1 225.8L203.2 225.9L203.2 226.1L203.3 226.2L203.4 226.3L203.4 226.4"/>
<path class="pd" d="M189.2 220.9L179.9 246.0L185.9 250.4L195.7 254.8L203.4 258.6"/>
<path class="ps" d="M192.0 223.0L183.7 246.0"/>
<path class="ps" d="M195.0 224.4L187.0 245.4"/>
<path class="ps" d="M197.4 225.6L189.4 246.6"/>
<path class="ps" d="M201.4 227.6L193.4 248.6"/>
<path class="ps" d="M203.6 228.8L195.6 249.8"/>
<path class="ps" d="M206.0 230.0L198.0 251.0"/>
<path class="ps" d="M208.4 231.2L200.4 252.2"/>
<path class="pd" d="M212.0 232.6L203.6 258.6"/>
<ellipse class="p" cx="186.6" cy="243.6" rx="1.0" ry="0.8" transform="rotate(25 186.6 243.6)"/>
<ellipse class="p" cx="189.8" cy="245.0" rx="1.0" ry="0.8" transform="rotate(25 189.8 245.0)"/>
<ellipse class="p" cx="195.0" cy="248.0" rx="1.0" ry="0.8" transform="rotate(25 195.0 248.0)"/>
<ellipse class="p" cx="198.2" cy="249.6" rx="1.0" ry="0.8" transform="rotate(25 198.2 249.6)"/>
<ellipse class="p" cx="201.0" cy="253.4" rx="1.0" ry="0.8" transform="rotate(25 201.0 253.4)"/>
<ellipse class="p" cx="197.2" cy="252.4" rx="1.0" ry="0.8" transform="rotate(25 197.2 252.4)"/>
<ellipse class="p" cx="192.2" cy="250.2" rx="1.0" ry="0.8" transform="rotate(25 192.2 250.2)"/>
<ellipse class="p" cx="187.0" cy="247.0" rx="1.0" ry="0.8" transform="rotate(25 187.0 247.0)"/>
<ellipse class="p" cx="184.6" cy="241.0" rx="1.0" ry="0.8" transform="rotate(25 184.6 241.0)"/>
<ellipse class="p" cx="194.4" cy="244.6" rx="1.0" ry="0.8" transform="rotate(25 194.4 244.6)"/>
<ellipse class="p" cx="199.0" cy="246.6" rx="1.0" ry="0.8" transform="rotate(25 199.0 246.6)"/>
<path class="sg" d="M213.2 228.2L219.8 230.8L218.2 235.6L211.8 232.8Z"/>
<path class="kd" d="M214.6 235.2L205.2 259.6"/>
<path class="ps" d="M217.2 236.0L208.0 260.2"/>
<path class="s" d="M219.2 230.8L230.7 234.0"/>
<path class="sg" d="M221.4 234.6L229.4 237.0L228.4 240.2L220.6 237.6Z"/>
<path class="s" d="M220.0 238.4L222.0 241.0L227.0 242.6L230.0 241.0"/>
<path class="ps" d="M228.0 241.0L231.6 247.0"/>
<path class="sw" d="M162.4 183.7L151.6 187.7L148.7 180.5L159.3 176.1Z"/>
<path class="sw" d="M166.5 184.7L166.9 184.2L167.0 183.1L166.9 181.6L166.4 179.8L165.8 177.9L164.9 176.0L164.0 174.4L163.1 173.2L162.2 172.5L161.6 172.5L158.0 173.9L158.7 174.0L159.5 174.6L160.5 175.8L161.4 177.4L162.3 179.3L162.9 181.2L163.4 183.0L163.5 184.5L163.4 185.6L162.9 186.1Z"/>
<path class="s" d="M159.8 173.2L160.5 173.3L161.3 173.9L162.2 175.1L163.2 176.7L164.0 178.6L164.7 180.5L165.1 182.3L165.3 183.8L165.1 184.9L164.7 185.4"/>
<path class="sw" d="M167.3 170.9L167.8 170.9L168.4 171.3L169.1 172.1L169.8 173.1L170.5 174.3L171.2 175.7L171.7 177.2L172.0 178.6L172.2 179.8L172.2 180.8L172.0 181.5L171.7 181.9L166.9 183.8L166.4 183.8L165.8 183.4L165.1 182.6L164.4 181.6L163.7 180.4L163.1 179.0L162.6 177.5L162.2 176.1L162.0 174.9L162.0 173.9L162.2 173.2L162.6 172.8Z"/>
<path class="s" d="M171.7 181.9L171.2 181.9L170.6 181.5L169.9 180.7L169.1 179.7L168.4 178.5L167.8 177.1L167.3 175.6L166.9 174.2L166.8 173.0L166.8 172.0L166.9 171.3L167.3 170.9"/>
<path class="s" d="M168.5 176.8L168.0 175.4L167.8 174.2L167.8 173.3L168.1 172.9L168.6 173.0L169.2 173.6L169.9 174.7L170.5 176.0L171.0 177.4L171.2 178.6L171.2 179.5L170.9 179.9L170.4 179.8L169.8 179.2L169.1 178.1L168.5 176.8Z"/>
<path class="s" d="M169.3 178.9L164.1 180.9"/>
<path class="s" d="M167.6 174.6L162.4 176.7"/>
<path class="sw" d="M202.1 275.5L197.4 287.7L190.1 285.0L194.3 272.7Z"/>
<path class="sw" d="M205.6 273.2L205.5 272.5L204.8 271.7L203.5 270.8L201.9 269.9L200.0 269.1L198.1 268.5L196.2 268.1L194.7 268.0L193.7 268.2L193.1 268.7L191.9 272.2L192.4 271.8L193.4 271.6L194.9 271.7L196.8 272.1L198.7 272.7L200.6 273.5L202.2 274.4L203.5 275.2L204.2 276.1L204.3 276.7Z"/>
<path class="s" d="M192.5 270.4L193.0 270.0L194.1 269.8L195.6 269.9L197.4 270.3L199.4 270.9L201.2 271.7L202.9 272.6L204.1 273.5L204.8 274.3L204.9 274.9"/>
<path class="sw" d="M195.8 263.3L196.2 263.0L196.9 262.8L197.9 262.7L199.1 262.9L200.5 263.2L202.0 263.7L203.4 264.2L204.7 264.9L205.7 265.6L206.5 266.2L206.9 266.9L206.9 267.4L205.2 272.2L204.8 272.5L204.1 272.7L203.1 272.8L201.9 272.6L200.5 272.3L199.0 271.8L197.6 271.3L196.3 270.6L195.3 269.9L194.5 269.3L194.1 268.7L194.1 268.1Z"/>
<path class="s" d="M206.9 267.4L206.6 267.7L205.9 267.9L204.9 268.0L203.6 267.8L202.2 267.5L200.8 267.0L199.3 266.5L198.1 265.8L197.0 265.1L196.3 264.5L195.8 263.9L195.8 263.3"/>
<path class="s" d="M201.0 266.4L199.7 265.8L198.6 265.2L197.9 264.6L197.8 264.1L198.2 263.8L199.1 263.7L200.3 263.9L201.7 264.3L203.1 264.9L204.2 265.5L204.8 266.2L204.9 266.7L204.5 266.9L203.6 267.0L202.4 266.8L201.0 266.4Z"/>
<path class="s" d="M203.1 267.1L201.2 272.4"/>
<path class="s" d="M198.7 265.6L196.8 270.8"/>
<path class="sw" d="M240.3 255.2L243.3 267.2L235.8 269.2L232.4 257.3Z"/>
<path class="sw" d="M241.3 254.9L242.4 260.3L233.1 262.8L231.3 257.6Z"/>
<path class="s" d="M241.8 257.4L232.2 260.0"/>
<path class="sw" d="M241.8 251.2L241.3 250.7L240.3 250.5L238.8 250.4L236.9 250.7L234.9 251.1L233.0 251.7L231.3 252.5L230.0 253.3L229.2 254.0L229.1 254.7L230.0 258.3L230.2 257.7L231.0 256.9L232.3 256.1L234.0 255.4L235.9 254.8L237.9 254.3L239.8 254.1L241.3 254.1L242.3 254.4L242.8 254.9Z"/>
<path class="s" d="M229.5 256.5L229.7 255.9L230.5 255.1L231.8 254.3L233.5 253.6L235.4 252.9L237.4 252.5L239.3 252.3L240.8 252.3L241.8 252.6L242.3 253.0"/>
<path class="sw" d="M228.2 248.8L228.3 248.3L228.7 247.7L229.5 247.1L230.6 246.5L231.9 246.0L233.4 245.5L234.9 245.2L236.3 245.0L237.6 244.9L238.6 245.0L239.3 245.3L239.6 245.7L240.9 250.6L240.8 251.1L240.4 251.7L239.6 252.3L238.5 252.9L237.1 253.4L235.7 253.9L234.2 254.3L232.8 254.4L231.5 254.5L230.5 254.4L229.8 254.1L229.5 253.7Z"/>
<path class="s" d="M239.6 245.7L239.5 246.2L239.0 246.8L238.2 247.4L237.1 248.0L235.8 248.5L234.3 249.0L232.9 249.3L231.4 249.5L230.2 249.6L229.2 249.5L228.5 249.2L228.2 248.8"/>
<path class="s" d="M234.2 248.3L232.7 248.6L231.5 248.7L230.6 248.6L230.2 248.2L230.4 247.8L231.1 247.2L232.2 246.7L233.6 246.2L235.0 245.9L236.3 245.8L237.2 245.9L237.5 246.3L237.4 246.7L236.7 247.3L235.5 247.8L234.2 248.3Z"/>
<path class="s" d="M236.3 247.7L237.8 253.1"/>
<path class="s" d="M231.8 248.9L233.3 254.3"/>
<path class="c" d="M171.8 175.4 L174.8 174.0"/>
</svg>
</body></html>
